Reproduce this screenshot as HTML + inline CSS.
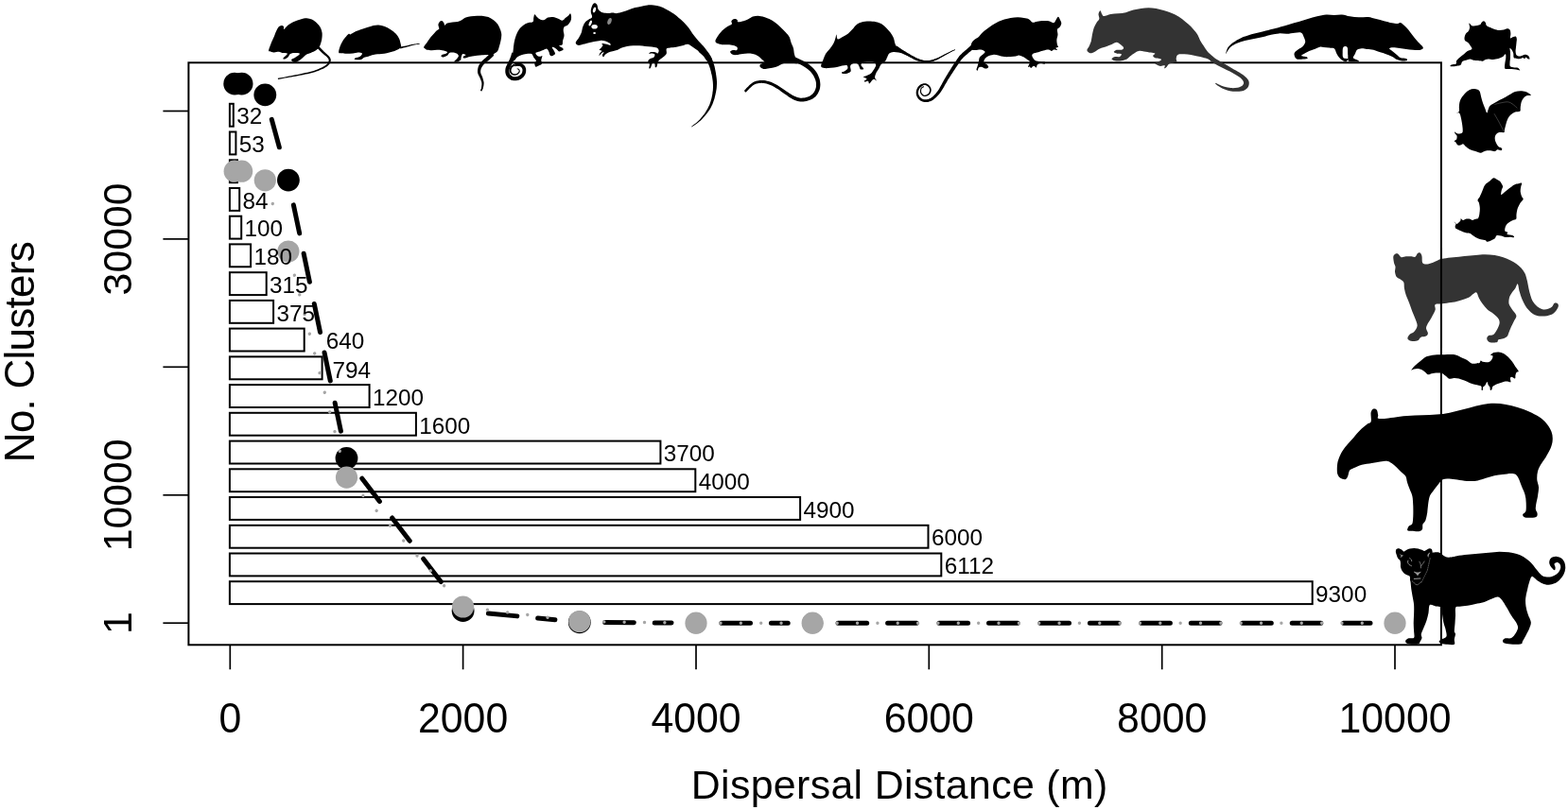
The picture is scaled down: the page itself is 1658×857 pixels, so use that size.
<!DOCTYPE html>
<html lang="en"><head><meta charset="utf-8"><title>Dispersal Distance vs No. Clusters</title>
<style>html,body{margin:0;padding:0;background:#fff}body{width:1658px;height:857px;overflow:hidden}svg{display:block}text{font-family:"Liberation Sans", Arial, Helvetica, sans-serif;fill:#000}</style>
</head><body><main><figure style="margin:0">
<svg role="img" aria-label="Dispersal distance versus number of clusters" width="1658" height="857" viewBox="0 0 1658 857">
<rect width="1658" height="857" fill="#fff"/>
<rect x="199.4" y="66.3" width="1324.5" height="616.0" fill="none" stroke="#000" stroke-width="2"/>
<g fill="none" stroke="#000" stroke-width="1.7" stroke-linecap="butt">
<line x1="243.3" y1="682.3" x2="243.3" y2="708.3"/>
<line x1="489.6" y1="682.3" x2="489.6" y2="708.3"/>
<line x1="736.0" y1="682.3" x2="736.0" y2="708.3"/>
<line x1="982.3" y1="682.3" x2="982.3" y2="708.3"/>
<line x1="1228.7" y1="682.3" x2="1228.7" y2="708.3"/>
<line x1="1475.0" y1="682.3" x2="1475.0" y2="708.3"/>
<line x1="172.4" y1="659.2" x2="199.4" y2="659.2"/>
<line x1="172.4" y1="523.8" x2="199.4" y2="523.8"/>
<line x1="172.4" y1="388.3" x2="199.4" y2="388.3"/>
<line x1="172.4" y1="252.9" x2="199.4" y2="252.9"/>
<line x1="172.4" y1="117.5" x2="199.4" y2="117.5"/>
</g>
<g font-size="42.8" text-anchor="middle">
<text transform="translate(243.3 775.3) scale(1 1.015)">0</text>
<text transform="translate(489.6 775.3) scale(1 1.015)">2000</text>
<text transform="translate(736.0 775.3) scale(1 1.015)">4000</text>
<text transform="translate(982.3 775.3) scale(1 1.015)">6000</text>
<text transform="translate(1228.7 775.3) scale(1 1.015)">8000</text>
<text transform="translate(1475.0 775.3) scale(1 1.015)">10000</text>
<text x="951.2" y="844.8" letter-spacing="0.36">Dispersal Distance (m)</text>
<text transform="translate(138.8 659.2) rotate(-90)">1</text>
<text transform="translate(138.8 523.8) rotate(-90)">10000</text>
<text transform="translate(138.8 252.9) rotate(-90)">30000</text>
<text transform="translate(35.9 372.6) rotate(-90)" font-size="44" letter-spacing="-0.75">No. Clusters</text>
</g>
<g fill="#fff" stroke="#000" stroke-width="2">
<rect x="242.9" y="109.8" width="3.9" height="23.9"/>
<rect x="242.9" y="139.5" width="6.5" height="23.9"/>
<rect x="242.9" y="169.3" width="8.1" height="23.9"/>
<rect x="242.9" y="199.0" width="10.3" height="23.9"/>
<rect x="242.9" y="228.7" width="12.3" height="23.9"/>
<rect x="242.9" y="258.4" width="22.2" height="23.9"/>
<rect x="242.9" y="288.2" width="38.8" height="23.9"/>
<rect x="242.9" y="317.9" width="46.2" height="23.9"/>
<rect x="242.9" y="347.6" width="78.8" height="23.9"/>
<rect x="242.9" y="377.4" width="97.7" height="23.9"/>
<rect x="242.9" y="407.1" width="147.7" height="23.9"/>
<rect x="242.9" y="436.8" width="197.0" height="23.9"/>
<rect x="242.9" y="466.6" width="455.5" height="23.9"/>
<rect x="242.9" y="496.3" width="492.4" height="23.9"/>
<rect x="242.9" y="526.0" width="603.2" height="23.9"/>
<rect x="242.9" y="555.8" width="738.6" height="23.9"/>
<rect x="242.9" y="585.5" width="752.4" height="23.9"/>
<rect x="242.9" y="615.2" width="1144.8" height="23.9"/>
</g>
<g fill="none" stroke="#000" stroke-width="5" stroke-linecap="round" stroke-dasharray="30.6 21.9 30.6 23.8">
<line x1="287.3" y1="126.3" x2="298.0" y2="165.5"/>
<line x1="310.4" y1="216.9" x2="361.1" y2="459.4"/>
<line x1="382.8" y1="506.2" x2="473.9" y2="625.5"/>
<line x1="516.4" y1="648.9" x2="586.9" y2="655.8"/>
<line x1="639.7" y1="658.6" x2="710.0" y2="659.0"/>
<line x1="762.9" y1="659.2" x2="833.2" y2="659.2"/>
<line x1="886.1" y1="659.2" x2="1449.0" y2="659.2"/>
</g>
<g fill="#000">
<circle cx="248.2" cy="88.7" r="11.9"/>
<circle cx="255.6" cy="88.7" r="11.9"/>
<circle cx="280.3" cy="100.3" r="11.9"/>
<circle cx="304.9" cy="190.6" r="11.9"/>
<circle cx="366.5" cy="484.8" r="11.9"/>
<circle cx="489.6" cy="646.2" r="11.9"/>
<circle cx="612.8" cy="658.4" r="11.9"/>
<circle cx="736.0" cy="659.2" r="11"/>
<circle cx="859.2" cy="659.2" r="11"/>
<circle cx="1475.0" cy="659.2" r="11"/>
</g>
<g fill="none" stroke="#a6a6a6" stroke-width="3.4" stroke-linecap="round" stroke-dasharray="0.01 21.34">
<line x1="288.3" y1="215.5" x2="297.7" y2="244.1"/>
<line x1="311.4" y1="291.2" x2="360.7" y2="482.8"/>
<line x1="383.9" y1="524.4" x2="474.3" y2="624.9"/>
<line x1="515.4" y1="645.2" x2="590.0" y2="654.6"/>
<line x1="638.8" y1="657.9" x2="713.0" y2="658.9"/>
<line x1="762.0" y1="659.2" x2="836.2" y2="659.2"/>
<line x1="885.2" y1="659.2" x2="1452.0" y2="659.2"/>
</g>
<g fill="#a6a6a6">
<circle cx="248.2" cy="181.2" r="11.6"/>
<circle cx="255.6" cy="181.2" r="11.6"/>
<circle cx="280.3" cy="190.8" r="11.6"/>
<circle cx="304.9" cy="266.0" r="11.6"/>
<circle cx="366.5" cy="505.1" r="11.6"/>
<circle cx="489.6" cy="642.0" r="11.6"/>
<circle cx="612.8" cy="657.5" r="11.6"/>
<circle cx="736.0" cy="659.2" r="11.6"/>
<circle cx="859.2" cy="659.2" r="11.6"/>
<circle cx="1475.0" cy="659.2" r="11.6"/>
</g>
<g font-size="24.3">
<text x="250.2" y="131.4">32</text>
<text x="252.8" y="161.2">53</text>
<text x="256.6" y="220.6">84</text>
<text x="258.6" y="250.4">100</text>
<text x="268.5" y="280.1">180</text>
<text x="285.1" y="309.8">315</text>
<text x="292.5" y="339.6">375</text>
<text x="344.7" y="369.1">640</text>
<text x="351.4" y="399.7">794</text>
<text x="394.0" y="428.8">1200</text>
<text x="443.3" y="458.5">1600</text>
<text x="701.8" y="488.2">3700</text>
<text x="738.7" y="517.9">4000</text>
<text x="849.5" y="547.7">4900</text>
<text x="984.9" y="577.4">6000</text>
<text x="998.7" y="607.1">6112</text>
<text x="1391.1" y="636.9">9300</text>
</g>
<g stroke-linejoin="round" stroke-linecap="round">
<path fill="#000" d="M284.1 53.2C284.3 51.9 285.3 49.2 286.3 46.7C287.3 44.1 289.1 40.3 290.1 38.0C291.1 35.6 291.5 34.1 292.3 32.6C293.0 31.0 293.5 29.7 294.4 28.8C295.3 27.9 296.8 27.3 297.7 27.1C298.6 27.0 299.4 27.4 299.9 28.0C300.3 28.6 299.6 31.2 300.4 30.9C301.2 30.7 302.9 28.0 304.7 26.6C306.6 25.2 309.1 23.8 311.3 22.8C313.4 21.8 315.6 21.0 317.8 20.4C319.9 19.8 322.3 19.3 324.3 19.3C326.3 19.4 327.9 19.8 329.7 20.6C331.5 21.5 333.6 23.0 335.1 24.4C336.7 25.9 338.0 27.6 338.9 29.3C339.8 31.0 340.3 32.8 340.6 34.7C340.8 36.7 340.6 39.3 340.3 41.3C340.1 43.2 339.4 45.2 338.9 46.7C338.4 48.1 338.1 48.9 337.3 49.9C336.5 51.0 335.5 52.2 334.1 53.2C332.6 54.2 330.3 55.2 328.6 55.9C327.0 56.6 325.5 56.8 324.3 57.5C323.0 58.3 322.1 59.3 321.0 60.3C319.9 61.2 318.9 62.2 317.8 63.0C316.7 63.8 315.5 64.6 314.5 65.1C313.5 65.7 312.9 66.5 311.8 66.2C310.7 66.0 307.9 64.4 308.0 63.5C308.1 62.6 311.1 61.6 312.3 60.8C313.6 60.0 314.9 59.3 315.6 58.6C316.3 57.9 317.4 56.9 316.7 56.5C316.0 56.0 312.9 55.8 311.3 55.9C309.6 56.0 308.0 56.3 306.9 57.0C305.8 57.7 305.6 59.3 304.7 60.3C303.8 61.2 302.4 62.2 301.5 62.4C300.6 62.7 299.1 62.5 299.3 61.9C299.5 61.2 301.8 59.5 302.6 58.6C303.3 57.7 304.4 56.9 303.7 56.5C302.9 56.0 299.7 56.2 298.2 55.9C296.8 55.6 296.4 54.9 295.0 54.8C293.5 54.7 291.2 55.5 289.5 55.4C287.9 55.3 286.1 54.6 285.2 54.3C284.3 53.9 283.9 54.5 284.1 53.2Z"/>
<path fill="#000" d="M335.5 50.8 L336.1 51.4 L336.9 52.2 L337.8 53.2 L338.8 54.3 L339.8 55.3 L340.8 56.2 L341.8 57.1 L342.8 58.0 L343.8 58.8 L344.8 59.6 L345.6 60.3 L346.2 61.0 L346.7 61.6 L347.1 62.2 L347.4 62.6 L347.5 63.1 L347.6 63.5 L347.7 64.0 L347.6 64.5 L347.4 65.1 L347.2 65.8 L346.8 66.4 L346.4 67.1 L345.9 67.7 L345.2 68.3 L344.4 68.9 L343.5 69.5 L342.5 70.2 L341.4 70.8 L340.2 71.4 L338.8 72.0 L337.3 72.7 L335.7 73.4 L334.1 74.0 L332.3 74.7 L330.6 75.2 L328.7 75.8 L326.8 76.2 L324.9 76.7 L322.8 77.1 L320.8 77.6 L318.7 78.0 L316.6 78.5 L314.4 78.9 L312.2 79.3 L310.0 79.8 L307.8 80.2 L305.7 80.6 L303.5 81.0 L301.2 81.4 L298.9 81.9 L296.8 82.3 L295.1 82.6 L293.8 82.8 L294.0 83.9 L295.3 83.7 L297.0 83.4 L299.1 83.0 L301.4 82.6 L303.7 82.2 L305.9 81.8 L308.1 81.4 L310.2 81.1 L312.5 80.7 L314.7 80.2 L316.9 79.8 L319.0 79.4 L321.1 79.0 L323.1 78.6 L325.2 78.2 L327.2 77.7 L329.1 77.3 L331.0 76.8 L332.9 76.2 L334.6 75.6 L336.4 74.9 L338.0 74.3 L339.5 73.6 L341.0 73.0 L342.2 72.4 L343.4 71.7 L344.5 71.1 L345.5 70.5 L346.4 69.8 L347.2 69.1 L347.9 68.3 L348.5 67.5 L349.0 66.7 L349.4 65.8 L349.6 65.0 L349.8 64.1 L349.8 63.3 L349.6 62.5 L349.4 61.7 L349.0 61.0 L348.5 60.3 L347.9 59.5 L347.2 58.7 L346.3 57.9 L345.3 57.0 L344.4 56.2 L343.4 55.3 L342.5 54.5 L341.6 53.6 L340.6 52.5 L339.6 51.5 L338.7 50.5 L337.9 49.7 L337.4 49.0Z"/>
<path fill="#000" d="M358.2 55.4C357.9 54.1 358.9 50.8 359.6 48.9C360.3 46.9 361.2 45.1 362.3 43.4C363.4 41.7 365.0 39.8 366.1 38.5C367.2 37.3 368.1 36.2 368.8 35.8C369.5 35.5 369.5 36.6 370.4 36.4C371.3 36.1 372.5 35.0 374.2 34.2C375.9 33.4 378.4 32.3 380.7 31.5C383.1 30.6 386.0 29.8 388.3 29.1C390.7 28.4 392.9 27.6 394.8 27.1C396.8 26.7 398.3 26.5 400.3 26.6C402.3 26.7 404.6 27.2 406.8 28.0C409.0 28.8 411.3 30.2 413.3 31.5C415.3 32.8 417.3 34.3 418.7 35.8C420.2 37.4 421.2 39.0 422.0 40.7C422.8 42.4 423.3 44.6 423.6 46.1C423.9 47.7 424.6 48.9 423.9 49.9C423.3 51.0 421.4 51.8 419.8 52.7C418.2 53.5 416.2 54.2 414.4 54.8C412.6 55.4 410.8 55.9 409.0 56.2C407.2 56.6 405.2 56.8 403.5 57.0C401.9 57.2 400.6 57.1 399.2 57.3C397.7 57.5 396.5 57.7 394.8 58.1C393.2 58.5 391.0 59.3 389.4 59.7C387.8 60.2 386.3 60.3 385.1 60.8C383.8 61.3 383.4 62.6 381.8 63.0C380.2 63.3 376.3 63.2 375.3 63.0C374.3 62.7 374.9 61.9 375.9 61.3C376.8 60.8 379.6 60.5 380.7 59.7C381.9 58.9 383.3 57.2 382.9 56.5C382.5 55.7 380.2 55.4 378.6 55.4C376.9 55.4 375.1 56.2 373.1 56.5C371.1 56.7 368.6 56.7 366.6 56.7C364.6 56.6 362.6 56.5 361.2 56.2C359.8 56.0 358.4 56.6 358.2 55.4Z"/>
<path fill="#000" d="M423.3 51.4 L424.1 51.2 L425.3 50.9 L426.6 50.6 L428.1 50.2 L429.5 49.9 L430.8 49.6 L432.0 49.2 L433.1 48.9 L434.2 48.6 L435.2 48.3 L436.2 48.0 L437.3 47.7 L438.4 47.5 L439.7 47.3 L440.9 47.1 L442.1 47.0 L443.0 46.8 L443.7 46.7 L443.7 46.0 L443.0 46.1 L442.0 46.1 L440.8 46.3 L439.5 46.4 L438.3 46.5 L437.1 46.7 L436.0 46.9 L434.9 47.1 L433.8 47.4 L432.8 47.6 L431.7 47.9 L430.5 48.2 L429.2 48.4 L427.8 48.7 L426.3 49.0 L424.9 49.2 L423.7 49.5 L422.9 49.6Z"/>
<path fill="#000" d="M448.2 49.5C448.6 48.5 450.1 46.8 451.3 45.2C452.4 43.5 453.8 41.4 455.1 39.7C456.4 38.1 457.7 36.7 458.9 35.4C460.1 34.1 461.2 33.0 462.1 32.1C463.0 31.3 464.1 31.5 464.3 30.5C464.5 29.5 463.4 27.4 463.4 26.2C463.5 24.9 464.2 23.6 464.9 22.9C465.5 22.2 466.8 21.9 467.6 22.2C468.3 22.4 469.1 23.8 469.5 24.5C470.0 25.3 469.7 26.7 470.3 26.7C470.9 26.7 471.6 25.1 473.0 24.5C474.4 24.0 476.6 23.7 478.4 23.5C480.2 23.2 482.2 23.3 483.9 22.9C485.5 22.6 486.7 22.0 488.2 21.3C489.6 20.6 490.9 19.3 492.5 18.6C494.2 17.9 496.0 17.5 498.0 17.2C500.0 16.9 502.3 16.8 504.5 16.7C506.7 16.7 509.0 16.7 511.0 16.9C513.0 17.2 514.6 17.3 516.4 18.0C518.2 18.8 520.2 20.0 521.9 21.3C523.5 22.6 525.0 24.0 526.2 25.6C527.4 27.3 528.2 29.2 528.9 31.1C529.6 32.9 530.2 34.5 530.3 36.5C530.4 38.5 529.9 40.8 529.5 43.0C529.0 45.2 528.4 47.7 527.8 49.5C527.3 51.3 527.0 52.7 526.2 53.9C525.4 55.0 524.0 55.7 522.9 56.6C521.9 57.5 520.8 59.0 519.7 59.3C518.6 59.5 517.9 58.2 516.4 58.0C515.0 57.8 513.0 58.1 511.0 58.2C509.0 58.3 506.7 58.5 504.5 58.7C502.3 59.0 499.8 59.5 498.0 59.8C496.2 60.2 494.9 60.6 493.6 60.9C492.4 61.2 491.0 61.6 490.4 61.5C489.7 61.3 489.5 60.4 489.8 59.8C490.2 59.3 492.6 58.6 492.5 58.2C492.4 57.7 490.1 56.7 489.3 57.1C488.5 57.5 488.0 59.3 487.7 60.4C487.3 61.5 487.7 62.8 487.1 63.6C486.5 64.4 485.0 65.0 483.9 65.3C482.7 65.5 480.2 65.7 480.1 65.3C479.9 64.8 482.0 63.5 482.8 62.5C483.6 61.5 484.9 60.3 484.9 59.3C484.9 58.3 483.9 57.2 482.8 56.6C481.7 55.9 479.7 55.6 478.4 55.5C477.2 55.4 476.1 55.5 475.2 56.0C474.3 56.6 474.1 58.0 473.0 58.7C471.9 59.5 469.7 60.2 468.7 60.4C467.6 60.5 467.0 60.2 466.7 59.8C466.4 59.5 466.3 58.6 467.0 58.2C467.7 57.7 469.8 57.7 470.8 57.1C471.8 56.6 473.5 55.6 473.0 54.9C472.5 54.3 469.4 53.7 467.6 53.3C465.8 52.9 464.0 52.8 462.1 52.8C460.3 52.8 458.5 53.3 456.7 53.3C454.9 53.3 452.6 53.1 451.3 52.8C450.0 52.4 449.6 51.7 449.1 51.1C448.6 50.6 447.9 50.5 448.2 49.5Z"/>
<path fill="#000" d="M519.2 55.5 L518.6 56.1 L517.8 56.9 L516.8 57.9 L515.8 58.9 L514.8 59.9 L513.9 60.8 L513.2 61.5 L512.4 62.1 L511.6 62.8 L510.8 63.5 L510.0 64.2 L509.3 65.0 L508.6 65.9 L507.9 66.8 L507.3 67.7 L506.7 68.6 L506.2 69.6 L505.8 70.6 L505.5 71.6 L505.3 72.6 L505.1 73.7 L505.0 74.7 L505.0 75.8 L505.1 76.9 L505.4 78.0 L505.8 79.0 L506.3 80.0 L506.8 80.9 L507.2 81.7 L507.6 82.6 L507.9 83.4 L508.3 84.3 L508.6 85.2 L508.9 86.0 L509.2 86.8 L509.3 87.6 L509.4 88.4 L509.4 89.3 L509.3 90.2 L509.2 91.1 L509.1 92.0 L509.0 92.7 L508.9 93.4 L508.7 94.0 L508.5 94.6 L508.2 95.1 L508.1 95.5 L507.9 95.9 L509.3 96.5 L509.5 96.2 L509.7 95.8 L510.0 95.3 L510.3 94.6 L510.6 93.9 L510.8 93.2 L511.0 92.3 L511.2 91.5 L511.4 90.5 L511.5 89.5 L511.6 88.4 L511.6 87.4 L511.5 86.4 L511.2 85.4 L511.0 84.4 L510.7 83.5 L510.4 82.5 L510.1 81.6 L509.7 80.6 L509.3 79.7 L508.9 78.8 L508.5 77.9 L508.3 77.1 L508.2 76.4 L508.1 75.7 L508.2 74.9 L508.3 74.1 L508.5 73.4 L508.7 72.6 L509.0 71.9 L509.4 71.2 L509.8 70.4 L510.3 69.7 L510.9 69.0 L511.5 68.3 L512.1 67.6 L512.7 67.0 L513.4 66.5 L514.1 65.9 L514.9 65.3 L515.8 64.6 L516.7 63.9 L517.7 63.0 L518.8 62.0 L519.9 61.0 L520.9 60.1 L521.7 59.3 L522.4 58.8Z"/>
<path fill="#000" d="M541.9 61.5C541.8 59.6 542.4 55.5 542.7 52.8C543.0 50.1 543.1 47.7 543.6 45.2C544.1 42.6 544.8 39.9 545.7 37.6C546.6 35.2 547.7 32.9 549.0 31.1C550.3 29.2 551.7 27.9 553.3 26.7C555.0 25.5 557.0 24.6 558.8 24.0C560.5 23.4 562.7 23.7 563.6 22.9C564.6 22.1 563.9 20.4 564.2 19.1C564.5 17.8 564.7 15.6 565.3 15.3C565.8 15.0 566.5 16.7 567.4 17.5C568.4 18.3 569.4 19.6 570.7 20.2C572.0 20.8 573.6 21.6 575.0 21.3C576.5 21.0 577.8 19.1 579.4 18.6C581.0 18.0 583.0 17.8 584.8 18.0C586.6 18.2 588.6 19.0 590.2 19.7C591.9 20.3 593.3 21.9 594.6 21.8C595.9 21.7 596.8 20.0 597.8 19.1C598.9 18.2 600.2 17.2 601.1 16.4C602.0 15.6 602.6 14.0 603.1 14.2C603.6 14.5 604.1 16.7 604.1 18.0C604.2 19.4 604.0 20.9 603.3 22.4C602.6 23.8 601.1 25.7 600.0 26.7C598.9 27.7 597.5 27.4 596.8 28.3C596.0 29.2 595.7 30.6 595.7 32.1C595.6 33.7 596.6 35.8 596.5 37.6C596.5 39.4 595.5 41.4 595.1 43.0C594.8 44.6 595.2 46.4 594.6 47.3C594.0 48.2 591.3 47.9 591.3 48.4C591.3 49.0 593.9 49.9 594.6 50.6C595.3 51.3 596.0 52.1 595.5 52.8C594.9 53.4 592.4 54.4 591.3 54.4C590.3 54.4 590.0 53.4 589.2 52.8C588.3 52.1 587.4 51.0 586.4 50.6C585.5 50.1 583.8 49.5 583.7 50.1C583.6 50.6 585.4 52.7 585.9 53.9C586.4 55.0 587.4 56.2 587.0 57.1C586.6 58.0 584.6 59.1 583.7 59.3C582.8 59.5 582.1 58.9 581.6 58.2C581.0 57.5 581.0 56.0 580.5 54.9C579.9 53.9 579.2 52.0 578.3 51.7C577.4 51.3 576.3 52.3 575.0 52.8C573.8 53.2 572.2 53.9 570.7 54.4C569.3 54.9 566.7 55.2 566.4 56.0C566.0 56.8 567.6 58.6 568.5 59.3C569.4 59.9 571.0 59.8 571.8 59.8C572.6 59.8 573.3 58.6 573.4 59.3C573.5 59.9 572.4 62.3 572.3 63.6C572.2 65.0 573.1 66.5 572.9 67.4C572.6 68.3 571.4 68.6 570.7 69.1C570.0 69.5 569.3 69.9 568.5 70.1C567.8 70.4 566.9 71.2 566.4 70.7C565.8 70.1 565.2 68.0 565.3 66.9C565.4 65.8 567.1 65.3 566.9 64.2C566.7 63.1 565.0 61.5 564.2 60.4C563.4 59.2 563.3 57.7 562.0 57.1C560.8 56.6 558.4 56.9 556.6 57.1C554.8 57.3 552.8 57.7 551.2 58.2C549.5 58.7 548.1 59.4 546.8 60.4C545.6 61.4 544.4 64.0 543.6 64.2C542.8 64.3 542.1 63.4 541.9 61.5Z"/>
<path fill="#000" d="M541.4 55.4 L541.2 56.1 L540.9 57.0 L540.6 58.1 L540.3 59.2 L539.9 60.3 L539.5 61.2 L539.2 62.1 L538.8 62.9 L538.4 63.7 L538.0 64.5 L537.5 65.5 L537.1 66.4 L536.6 67.3 L536.1 68.4 L535.6 69.4 L535.1 70.6 L534.6 71.9 L534.4 73.2 L534.3 74.4 L534.3 75.7 L534.4 76.9 L534.7 78.2 L535.1 79.4 L535.7 80.5 L536.4 81.6 L537.3 82.5 L538.3 83.3 L539.4 84.1 L540.6 84.7 L541.8 85.1 L543.1 85.3 L544.5 85.3 L545.8 85.2 L547.1 85.0 L548.4 84.7 L549.5 84.2 L550.6 83.7 L551.7 83.0 L552.6 82.3 L553.5 81.5 L554.2 80.6 L554.9 79.6 L555.4 78.6 L555.8 77.5 L556.0 76.4 L556.2 75.3 L556.2 74.3 L556.2 73.3 L556.0 72.3 L555.7 71.4 L555.3 70.5 L554.8 69.7 L554.2 69.0 L553.5 68.4 L552.8 67.8 L552.0 67.4 L551.2 67.0 L550.4 66.7 L549.5 66.5 L548.7 66.4 L547.7 66.3 L546.8 66.4 L545.9 66.5 L545.1 66.7 L544.5 66.8 L544.1 66.8 L544.5 70.2 L545.0 70.2 L545.7 70.1 L546.4 69.9 L547.1 69.9 L547.7 69.8 L548.3 69.9 L548.8 70.0 L549.4 70.1 L549.9 70.3 L550.4 70.6 L550.8 70.8 L551.1 71.1 L551.4 71.4 L551.8 71.8 L552.0 72.3 L552.2 72.7 L552.4 73.2 L552.5 73.7 L552.5 74.3 L552.4 75.0 L552.3 75.7 L552.1 76.4 L551.9 77.1 L551.6 77.7 L551.2 78.2 L550.7 78.8 L550.1 79.3 L549.4 79.8 L548.7 80.3 L548.0 80.6 L547.2 80.9 L546.3 81.1 L545.3 81.2 L544.4 81.3 L543.5 81.3 L542.8 81.2 L542.2 80.9 L541.5 80.5 L540.8 80.1 L540.2 79.5 L539.6 78.9 L539.2 78.4 L539.0 77.8 L538.7 77.1 L538.6 76.3 L538.5 75.5 L538.5 74.6 L538.6 73.8 L538.8 73.1 L539.1 72.2 L539.5 71.3 L540.0 70.3 L540.5 69.3 L541.0 68.3 L541.5 67.4 L541.9 66.6 L542.3 65.7 L542.8 64.9 L543.3 63.9 L543.7 62.9 L544.1 61.8 L544.6 60.6 L544.9 59.5 L545.3 58.4 L545.6 57.5 L545.8 56.8Z"/>
<path fill="#000" d="M543.8 67.6 L543.4 67.8 L542.9 68.1 L542.1 68.4 L541.4 68.9 L540.7 69.4 L540.0 70.1 L539.6 70.9 L539.2 71.7 L539.0 72.5 L538.8 73.4 L538.7 74.3 L538.7 75.1 L538.9 75.9 L539.3 76.7 L539.7 77.4 L540.2 78.1 L540.8 78.7 L541.4 79.1 L542.2 79.5 L543.0 79.6 L543.8 79.7 L544.7 79.7 L545.5 79.6 L546.2 79.4 L546.9 79.1 L547.6 78.7 L548.2 78.2 L548.7 77.6 L549.2 77.1 L549.5 76.5 L549.7 76.0 L549.8 75.4 L549.7 74.8 L549.6 74.3 L549.4 73.8 L549.2 73.4 L548.8 73.0 L548.4 72.8 L547.9 72.6 L547.5 72.5 L547.2 72.4 L546.9 72.3 L546.6 73.1 L546.9 73.2 L547.2 73.3 L547.6 73.5 L548.0 73.6 L548.2 73.8 L548.4 74.0 L548.5 74.2 L548.6 74.6 L548.6 75.0 L548.6 75.3 L548.6 75.7 L548.4 76.0 L548.2 76.3 L547.8 76.8 L547.3 77.2 L546.8 77.6 L546.3 77.9 L545.8 78.1 L545.2 78.2 L544.6 78.2 L543.9 78.2 L543.2 78.1 L542.7 78.0 L542.2 77.8 L541.9 77.5 L541.5 77.0 L541.1 76.5 L540.8 76.0 L540.6 75.4 L540.5 74.9 L540.5 74.3 L540.6 73.7 L540.8 73.0 L541.0 72.4 L541.3 71.8 L541.6 71.3 L542.0 71.0 L542.5 70.6 L543.1 70.3 L543.8 70.0 L544.4 69.7 L544.8 69.5Z"/>
<path fill="#000" d="M608.7 45.1C608.9 43.8 610.9 41.9 611.9 40.2C612.9 38.4 613.9 36.7 614.7 34.7C615.4 32.8 615.6 30.1 616.3 28.2C617.0 26.3 617.8 24.7 619.0 23.3C620.2 22.0 622.2 21.0 623.3 20.1C624.5 19.2 625.8 19.1 626.1 17.9C626.3 16.7 624.9 14.6 624.8 13.0C624.6 11.5 624.8 10.1 625.2 8.7C625.6 7.2 626.5 5.2 627.1 4.3C627.8 3.4 628.6 3.1 629.3 3.3C630.0 3.4 630.9 4.3 631.5 5.4C632.0 6.5 632.0 8.7 632.6 9.8C633.1 10.9 633.8 11.3 634.7 11.9C635.6 12.6 636.6 13.2 638.0 13.6C639.4 13.9 641.8 14.1 643.4 14.1C645.1 14.1 646.3 13.6 647.8 13.6C649.2 13.6 650.3 14.3 652.1 14.1C653.9 13.9 656.5 13.1 658.6 12.5C660.8 11.9 663.0 11.0 665.1 10.3C667.3 9.6 669.5 8.7 671.7 8.1C673.8 7.5 676.0 7.2 678.2 6.7C680.3 6.3 682.5 5.6 684.7 5.4C686.9 5.2 689.0 5.4 691.2 5.6C693.4 5.9 695.5 6.0 697.7 6.7C699.9 7.4 702.1 8.6 704.2 9.8C706.4 10.9 708.6 12.1 710.7 13.6C712.9 15.0 715.3 16.8 717.2 18.5C719.2 20.1 720.9 21.5 722.7 23.3C724.5 25.2 726.5 27.2 728.1 29.3C729.7 31.4 731.0 33.8 732.4 35.8C733.9 37.8 735.3 39.5 736.8 41.3C738.2 43.0 739.7 44.5 741.1 46.1C742.6 47.8 743.9 49.0 745.5 51.0C747.0 53.0 749.2 56.1 750.4 58.1C751.5 60.1 753.0 62.0 752.5 63.0C752.1 64.0 749.0 64.6 747.6 64.1C746.3 63.5 745.7 61.2 744.4 59.7C743.1 58.3 741.5 56.6 740.0 55.4C738.6 54.1 737.2 53.2 735.7 52.1C734.3 51.0 732.8 49.8 731.4 48.9C729.9 47.9 728.6 46.8 727.0 46.7C725.4 46.6 723.6 47.8 721.6 48.3C719.6 48.8 717.2 49.4 715.1 49.7C712.9 50.1 710.3 50.2 708.6 50.5C706.8 50.8 705.4 50.6 704.8 51.6C704.1 52.6 705.2 55.1 704.8 56.5C704.3 57.8 703.2 58.6 702.1 59.7C700.9 60.8 698.8 61.9 697.7 63.0C696.6 64.1 696.1 65.0 695.5 66.2C695.0 67.5 694.9 69.8 694.5 70.6C694.0 71.4 693.2 71.7 692.8 71.1C692.5 70.6 692.7 68.1 692.3 67.3C691.8 66.5 690.8 65.5 690.1 66.2C689.4 66.9 688.6 70.7 687.9 71.7C687.3 72.6 686.5 72.8 686.3 72.2C686.1 71.6 687.0 69.0 686.9 67.9C686.7 66.7 685.2 66.0 685.2 65.1C685.2 64.2 685.9 63.1 686.9 62.4C687.8 61.7 690.3 61.6 691.2 60.8C692.1 60.0 692.6 58.3 692.3 57.5C691.9 56.8 690.0 56.5 689.0 56.5C688.0 56.4 686.5 57.2 686.3 57.0C686.1 56.8 686.8 55.4 687.9 55.2C689.1 54.9 692.1 55.2 693.4 55.4C694.6 55.6 695.0 56.8 695.5 56.5C696.1 56.1 696.8 54.2 696.6 53.2C696.4 52.2 695.7 51.1 694.5 50.5C693.2 49.8 691.0 49.7 689.0 49.4C687.0 49.1 684.7 49.0 682.5 48.9C680.3 48.7 678.2 48.4 676.0 48.3C673.8 48.2 671.7 48.2 669.5 48.3C667.3 48.4 665.0 48.5 663.0 48.9C661.0 49.2 659.2 49.8 657.5 50.5C655.9 51.1 654.8 52.0 653.2 52.7C651.6 53.3 649.4 53.8 647.8 54.3C646.1 54.7 644.7 54.8 643.4 55.4C642.2 55.9 641.1 56.7 640.2 57.5C639.3 58.4 638.5 60.2 638.0 60.3C637.5 60.3 636.8 58.9 636.9 58.1C637.0 57.3 638.7 55.6 638.5 55.4C638.4 55.1 636.6 55.8 635.8 56.5C635.0 57.1 633.9 59.2 633.7 59.2C633.4 59.2 633.7 57.4 634.2 56.5C634.7 55.5 636.5 54.4 636.4 53.7C636.3 53.1 633.7 53.2 633.7 52.7C633.6 52.1 635.2 51.3 635.8 50.5C636.5 49.7 637.4 48.5 637.5 47.8C637.5 47.0 635.7 46.3 636.4 46.1C637.0 46.0 639.7 46.4 641.3 46.7C642.8 47.0 645.1 47.9 645.6 47.8C646.1 47.6 645.4 46.3 644.5 45.6C643.6 44.9 641.8 43.9 640.2 43.4C638.5 43.0 636.7 42.8 634.7 42.9C632.8 43.0 630.4 43.5 628.2 44.0C626.1 44.4 623.9 45.1 621.7 45.6C619.5 46.1 617.0 46.9 615.2 47.2C613.4 47.6 611.9 48.1 610.9 47.8C609.8 47.4 608.5 46.3 608.7 45.1Z"/>
<path fill="#000" d="M738.6 54.7 L739.3 55.3 L740.2 56.0 L741.2 56.9 L742.2 57.8 L743.2 58.7 L744.0 59.6 L744.8 60.5 L745.5 61.4 L746.3 62.4 L746.9 63.4 L747.6 64.5 L748.2 65.8 L748.9 67.2 L749.5 68.7 L750.1 70.3 L750.7 72.0 L751.2 73.7 L751.7 75.5 L752.1 77.4 L752.6 79.3 L753.0 81.3 L753.3 83.2 L753.6 85.2 L753.8 87.0 L753.9 88.8 L754.0 90.5 L754.0 92.2 L753.9 93.9 L753.8 95.7 L753.5 97.5 L753.3 99.4 L752.9 101.4 L752.5 103.4 L752.0 105.4 L751.4 107.4 L750.8 109.2 L750.2 110.9 L749.4 112.6 L748.6 114.2 L747.8 115.8 L746.8 117.3 L745.8 118.9 L744.8 120.4 L743.6 122.0 L742.4 123.5 L741.1 125.0 L739.9 126.4 L738.6 127.7 L737.3 128.9 L735.9 130.2 L734.4 131.3 L733.0 132.3 L731.9 133.2 L731.1 133.9 L731.4 134.4 L732.3 133.8 L733.5 133.0 L735.0 132.1 L736.5 131.0 L738.1 129.8 L739.5 128.6 L740.9 127.4 L742.3 126.0 L743.6 124.6 L745.0 123.1 L746.3 121.6 L747.5 120.1 L748.6 118.5 L749.7 117.0 L750.7 115.4 L751.7 113.7 L752.5 112.0 L753.4 110.2 L754.1 108.3 L754.8 106.3 L755.5 104.2 L756.0 102.1 L756.5 100.0 L756.9 98.1 L757.3 96.1 L757.6 94.3 L757.8 92.5 L757.9 90.6 L758.0 88.7 L758.0 86.8 L757.9 84.8 L757.7 82.7 L757.4 80.5 L757.1 78.4 L756.8 76.4 L756.4 74.4 L756.0 72.5 L755.6 70.6 L755.1 68.7 L754.5 66.9 L754.0 65.2 L753.3 63.5 L752.7 62.0 L752.0 60.6 L751.3 59.2 L750.5 58.0 L749.7 56.8 L748.9 55.6 L747.9 54.4 L746.8 53.2 L745.8 52.0 L744.8 51.0 L744.0 50.2 L743.4 49.6Z"/>
<g fill="#fff"><ellipse cx="624.2" cy="24.6" rx="1.3" ry="3.2" transform="rotate(25 624.2 24.6)"/><ellipse cx="628.6" cy="28.2" rx="3.2" ry="2.3"/><ellipse cx="628.6" cy="35" rx="1.4" ry="1.1"/><ellipse cx="628.5" cy="10.5" rx="1.5" ry="3" transform="rotate(20 628.5 10.5)"/></g>
<ellipse cx="644.5" cy="22.5" rx="2" ry="3.6" fill="#888" transform="rotate(20 644.5 22.5)"/>
<path fill="#000" d="M756.4 43.4C756.4 42.1 757.9 39.8 759.1 38.0C760.3 36.2 761.8 34.2 763.5 32.6C765.1 30.9 767.2 29.4 768.9 28.2C770.6 27.1 773.0 26.5 773.8 25.5C774.5 24.5 773.0 23.2 773.4 22.3C773.9 21.4 775.4 20.3 776.5 20.1C777.5 19.9 779.1 20.6 779.7 21.2C780.4 21.7 779.2 23.2 780.3 23.3C781.4 23.5 784.4 22.8 786.3 22.3C788.2 21.7 790.1 20.9 791.7 20.1C793.3 19.3 794.4 18.1 796.0 17.6C797.7 17.0 799.5 16.8 801.5 16.8C803.4 16.9 806.0 17.4 808.0 17.9C810.0 18.5 811.4 19.1 813.4 20.1C815.4 21.1 817.9 22.4 819.9 23.9C821.9 25.3 823.5 27.1 825.3 28.8C827.1 30.5 829.2 32.5 830.8 34.2C832.3 35.9 833.6 37.2 834.6 39.1C835.6 41.0 836.0 43.6 836.7 45.6C837.5 47.6 838.4 49.0 838.9 51.0C839.5 53.0 839.5 55.7 840.0 57.5C840.5 59.3 841.0 60.6 842.2 61.9C843.3 63.1 847.0 64.2 847.1 65.1C847.1 66.0 844.3 67.0 842.7 67.3C841.1 67.6 839.3 66.9 837.3 66.8C835.3 66.7 832.8 66.5 830.8 66.8C828.8 67.0 827.1 67.7 825.3 68.4C823.5 69.1 821.9 70.5 819.9 71.1C817.9 71.7 815.5 71.9 813.4 72.2C811.3 72.5 809.1 73.2 807.4 73.0C805.8 72.7 804.2 71.4 803.6 70.6C803.1 69.7 803.4 68.6 804.2 67.9C805.0 67.1 808.2 67.0 808.5 66.2C808.8 65.4 807.0 64.1 805.8 63.0C804.6 61.8 803.1 60.2 801.5 59.2C799.8 58.2 797.8 57.4 796.0 57.0C794.2 56.5 792.4 56.5 790.6 56.5C788.8 56.5 787.2 56.7 785.2 57.0C783.2 57.3 780.5 58.0 778.7 58.1C776.8 58.2 775.4 58.1 774.3 57.5C773.2 57.0 772.1 55.5 772.1 54.8C772.1 54.1 773.2 53.5 774.3 53.2C775.4 52.9 777.8 53.6 778.7 53.2C779.6 52.7 780.1 51.3 779.7 50.5C779.4 49.7 777.9 48.9 776.5 48.3C775.0 47.8 773.0 47.4 771.1 47.2C769.1 47.0 766.5 47.4 764.5 47.2C762.6 47.0 760.5 46.8 759.1 46.1C757.8 45.5 756.4 44.8 756.4 43.4Z"/>
<path fill="#000" d="M838.8 65.1 L840.0 65.6 L841.7 66.3 L843.7 67.2 L845.8 68.1 L847.7 69.0 L849.4 70.0 L851.0 70.9 L852.5 72.0 L853.9 73.1 L855.3 74.2 L856.5 75.3 L857.6 76.5 L858.6 77.7 L859.5 79.0 L860.3 80.3 L861.0 81.7 L861.6 83.0 L862.1 84.3 L862.5 85.6 L862.8 87.0 L863.0 88.3 L863.0 89.5 L863.0 90.8 L862.9 92.0 L862.6 93.2 L862.3 94.3 L861.8 95.5 L861.2 96.7 L860.6 97.7 L859.9 98.6 L859.2 99.4 L858.4 100.1 L857.5 100.8 L856.5 101.4 L855.4 102.0 L854.3 102.4 L853.1 102.8 L851.8 103.2 L850.5 103.4 L849.1 103.6 L847.7 103.7 L846.5 103.7 L845.3 103.6 L844.2 103.3 L843.1 103.0 L841.9 102.6 L840.7 102.1 L839.5 101.6 L838.4 101.0 L837.2 100.3 L836.0 99.5 L834.7 98.7 L833.4 97.8 L832.1 96.9 L830.7 96.0 L829.3 95.0 L827.8 93.9 L826.3 92.9 L824.8 91.9 L823.3 90.9 L821.8 90.1 L820.3 89.3 L818.8 88.5 L817.3 87.8 L815.8 87.1 L814.3 86.5 L812.7 86.1 L811.2 85.7 L809.6 85.3 L808.1 85.1 L806.6 84.9 L805.1 84.9 L803.6 85.0 L802.2 85.2 L800.8 85.4 L799.4 85.8 L798.1 86.2 L796.9 86.8 L795.7 87.4 L794.7 88.2 L793.7 89.0 L792.8 89.8 L792.0 90.6 L791.2 91.4 L790.3 92.2 L789.5 93.1 L788.6 94.0 L787.9 94.9 L787.3 95.6 L786.8 96.1 L788.6 97.7 L789.1 97.2 L789.7 96.5 L790.5 95.7 L791.3 94.9 L792.1 94.0 L792.9 93.3 L793.8 92.5 L794.6 91.7 L795.4 91.0 L796.3 90.3 L797.1 89.7 L798.1 89.2 L799.1 88.8 L800.2 88.5 L801.4 88.2 L802.6 88.0 L803.8 87.9 L805.1 87.8 L806.4 87.9 L807.7 88.0 L809.1 88.3 L810.5 88.6 L811.9 89.0 L813.3 89.5 L814.6 90.0 L816.0 90.6 L817.4 91.3 L818.8 92.1 L820.2 92.9 L821.6 93.7 L823.0 94.6 L824.4 95.6 L825.9 96.7 L827.3 97.7 L828.8 98.8 L830.2 99.7 L831.5 100.6 L832.8 101.5 L834.0 102.4 L835.3 103.3 L836.6 104.1 L837.9 104.8 L839.2 105.4 L840.5 106.0 L841.9 106.5 L843.3 107.0 L844.7 107.3 L846.2 107.5 L847.8 107.5 L849.4 107.5 L851.0 107.3 L852.7 107.0 L854.2 106.6 L855.7 106.1 L857.1 105.6 L858.4 104.9 L859.7 104.2 L860.9 103.3 L862.1 102.4 L863.1 101.3 L864.1 100.0 L864.9 98.7 L865.6 97.3 L866.3 95.8 L866.8 94.3 L867.1 92.7 L867.3 91.1 L867.4 89.5 L867.3 87.9 L867.1 86.2 L866.8 84.6 L866.4 83.0 L865.8 81.4 L865.1 79.7 L864.3 78.1 L863.4 76.5 L862.3 74.9 L861.1 73.4 L859.8 72.0 L858.4 70.7 L856.9 69.4 L855.3 68.1 L853.6 67.0 L851.9 65.8 L850.0 64.7 L847.9 63.7 L845.7 62.7 L843.7 61.8 L842.0 61.1 L840.8 60.5Z"/>
<path fill="#000" d="M868.1 70.1C867.9 68.7 869.5 65.8 870.3 63.6C871.1 61.5 871.9 59.1 873.0 57.1C874.2 55.1 876.0 53.5 877.4 51.7C878.7 49.9 880.2 48.1 881.2 46.3C882.2 44.4 882.8 42.5 883.3 40.8C883.9 39.2 884.0 36.4 884.4 36.5C884.8 36.6 884.7 41.0 885.8 41.4C887.0 41.7 889.6 39.7 891.5 38.7C893.3 37.7 895.3 36.7 896.9 35.4C898.5 34.1 899.8 32.6 901.3 31.1C902.7 29.5 904.0 27.4 905.6 26.2C907.2 24.9 908.9 24.1 911.0 23.5C913.2 22.9 916.1 22.6 918.6 22.6C921.2 22.6 924.1 22.8 926.2 23.2C928.4 23.7 929.8 24.1 931.7 25.1C933.5 26.1 935.5 27.9 937.1 29.4C938.7 31.0 940.2 32.6 941.4 34.3C942.7 36.0 943.9 37.8 944.7 39.7C945.5 41.6 945.8 44.1 946.3 45.7C946.9 47.3 947.1 48.4 947.9 49.5C948.8 50.6 949.6 51.2 951.2 52.2C952.8 53.2 955.5 54.3 957.7 55.5C959.9 56.7 962.1 58.1 964.2 59.3C966.4 60.5 968.6 61.7 970.7 62.5C972.9 63.4 975.1 63.9 977.2 64.2C979.4 64.4 981.6 64.5 983.8 64.2C985.9 63.8 988.1 62.9 990.3 62.0C992.4 61.1 994.6 59.8 996.8 58.7C999.0 57.7 1001.1 56.5 1003.3 55.5C1005.5 54.5 1009.8 52.4 1009.8 52.6C1009.8 52.7 1005.5 55.0 1003.3 56.2C1001.1 57.5 999.0 58.6 996.8 59.8C994.6 61.1 992.3 62.7 990.3 63.6C988.3 64.5 987.0 64.9 984.8 65.3C982.7 65.6 979.8 66.0 977.2 65.8C974.7 65.6 972.0 65.0 969.7 64.2C967.3 63.4 965.3 62.0 963.1 60.9C961.0 59.8 958.8 58.6 956.6 57.7C954.5 56.7 952.1 55.9 950.1 55.5C948.1 55.0 946.3 54.8 944.7 54.9C943.1 55.1 941.4 55.7 940.3 56.6C939.3 57.5 938.9 59.0 938.2 60.4C937.4 61.7 937.1 63.4 936.0 64.7C934.9 66.0 932.7 66.7 931.7 68.0C930.6 69.2 930.4 70.7 929.5 72.3C928.6 73.9 926.9 76.1 926.2 77.7C925.5 79.4 925.0 80.8 925.1 82.1C925.2 83.3 926.9 85.1 926.8 85.3C926.6 85.6 924.9 83.7 924.1 83.7C923.2 83.7 922.7 84.5 921.9 85.3C921.1 86.2 919.8 88.5 919.2 88.6C918.5 88.7 918.7 86.2 918.1 85.9C917.4 85.5 916.1 86.4 915.4 86.4C914.6 86.4 913.6 86.4 913.7 85.9C913.9 85.3 916.6 83.9 916.5 83.2C916.3 82.4 912.7 82.1 912.7 81.5C912.7 81.0 915.1 80.5 916.5 79.9C917.8 79.3 919.5 78.8 920.8 77.7C922.1 76.7 923.1 74.8 924.1 73.4C925.0 71.9 926.2 70.3 926.2 69.1C926.2 67.8 925.3 66.4 924.1 65.8C922.8 65.2 920.6 65.2 918.6 65.3C916.6 65.3 913.5 65.7 912.1 66.3C910.8 67.0 910.3 68.0 910.5 69.1C910.7 70.1 913.3 72.1 913.2 72.9C913.1 73.6 910.8 73.8 909.9 73.4C909.1 72.9 908.9 71.1 908.3 70.1C907.8 69.1 907.9 67.9 906.7 67.4C905.5 67.0 902.5 67.0 901.3 67.4C900.0 67.9 899.4 68.8 899.1 70.1C898.8 71.5 900.2 74.3 899.6 75.6C899.1 76.8 897.2 77.3 895.8 77.7C894.5 78.1 892.5 78.1 891.5 78.0C890.5 77.8 889.5 77.1 889.9 76.7C890.2 76.2 892.6 75.7 893.7 75.0C894.7 74.3 896.1 73.3 896.4 72.3C896.6 71.3 896.3 69.5 895.3 69.1C894.3 68.6 892.1 69.3 890.4 69.6C888.7 69.9 887.0 70.6 885.0 71.0C883.0 71.4 880.6 71.6 878.5 71.8C876.3 71.9 873.7 72.4 871.9 72.1C870.2 71.8 868.4 71.6 868.1 70.1Z"/>
<path fill="#000" d="M946.0 50.8 L946.9 51.3 L948.1 52.0 L949.5 52.9 L951.0 53.9 L952.4 54.8 L953.7 55.6 L954.9 56.3 L956.0 56.9 L957.1 57.5 L958.2 58.1 L959.3 58.7 L960.4 59.3 L961.5 59.9 L962.6 60.5 L963.7 61.1 L964.8 61.6 L965.9 62.2 L967.0 62.7 L968.1 63.2 L969.2 63.6 L970.3 64.1 L971.5 64.5 L972.6 64.8 L973.7 65.1 L974.9 65.4 L976.0 65.6 L977.1 65.7 L978.3 65.8 L979.4 65.8 L980.5 65.8 L981.7 65.7 L982.8 65.5 L983.9 65.3 L985.0 65.0 L986.1 64.7 L987.2 64.3 L988.3 63.9 L989.4 63.5 L990.5 63.1 L991.5 62.6 L992.7 62.0 L993.8 61.5 L995.0 60.8 L996.2 60.2 L997.5 59.5 L998.7 58.8 L1000.0 58.0 L1001.4 57.3 L1002.8 56.5 L1004.5 55.7 L1006.1 54.8 L1007.7 54.0 L1009.0 53.4 L1010.0 52.9 L1009.7 52.2 L1008.7 52.7 L1007.4 53.3 L1005.8 54.1 L1004.1 54.9 L1002.4 55.7 L1000.9 56.5 L999.6 57.2 L998.2 57.8 L996.9 58.5 L995.7 59.2 L994.5 59.8 L993.3 60.4 L992.1 60.9 L991.0 61.4 L989.9 61.8 L988.9 62.2 L987.9 62.6 L986.8 62.9 L985.7 63.2 L984.7 63.5 L983.6 63.7 L982.5 63.9 L981.5 64.0 L980.5 64.1 L979.4 64.1 L978.4 64.0 L977.4 63.9 L976.3 63.7 L975.3 63.5 L974.2 63.2 L973.2 62.9 L972.2 62.5 L971.1 62.1 L970.1 61.7 L969.0 61.2 L968.0 60.7 L966.9 60.1 L965.8 59.6 L964.8 59.0 L963.7 58.4 L962.6 57.7 L961.6 57.1 L960.5 56.5 L959.5 55.9 L958.4 55.3 L957.4 54.6 L956.3 53.9 L955.2 53.2 L953.9 52.4 L952.5 51.5 L951.0 50.5 L949.7 49.6 L948.5 48.8 L947.7 48.3Z"/>
<path fill="#000" d="M1026.8 47.6C1027.0 45.9 1028.1 44.1 1029.5 42.7C1030.8 41.2 1033.3 40.3 1034.9 38.9C1036.5 37.4 1037.4 35.6 1039.3 34.0C1041.1 32.4 1043.6 30.7 1045.8 29.1C1047.9 27.6 1049.9 26.1 1052.3 24.8C1054.6 23.5 1057.2 22.2 1059.9 21.3C1062.6 20.4 1065.9 19.6 1068.6 19.1C1071.3 18.6 1073.8 18.3 1076.2 18.3C1078.5 18.3 1080.7 18.8 1082.7 19.1C1084.7 19.5 1086.6 19.7 1088.1 20.4C1089.6 21.2 1090.5 23.3 1091.9 23.7C1093.4 24.1 1094.9 23.1 1096.8 22.8C1098.7 22.5 1101.1 22.1 1103.3 22.1C1105.5 22.0 1108.0 22.0 1109.8 22.4C1111.6 22.7 1113.0 24.6 1114.2 24.2C1115.3 23.9 1116.1 21.5 1116.9 20.4C1117.7 19.3 1118.3 17.5 1119.0 17.7C1119.8 17.9 1120.7 20.3 1121.2 21.5C1121.8 22.7 1122.4 23.6 1122.3 24.8C1122.2 25.9 1121.4 27.5 1120.7 28.6C1120.0 29.7 1118.3 29.9 1118.0 31.3C1117.6 32.6 1118.6 34.9 1118.5 36.7C1118.4 38.5 1117.5 40.3 1117.4 42.1C1117.3 44.0 1117.7 46.3 1118.0 47.6C1118.2 48.8 1119.3 49.2 1119.0 49.7C1118.8 50.3 1116.5 50.3 1116.3 50.8C1116.2 51.4 1118.3 52.7 1118.0 53.0C1117.6 53.3 1115.2 52.3 1114.2 52.5C1113.2 52.6 1112.9 54.1 1112.0 54.1C1111.1 54.1 1110.2 52.5 1108.7 52.5C1107.3 52.4 1105.1 53.1 1103.3 53.5C1101.5 54.0 1099.7 54.6 1097.9 55.2C1096.1 55.7 1093.5 56.1 1092.4 56.8C1091.4 57.5 1091.0 58.3 1091.4 59.5C1091.7 60.7 1093.2 62.9 1094.6 63.9C1096.1 64.8 1098.3 64.7 1100.0 64.9C1101.8 65.2 1104.2 65.0 1104.9 65.5C1105.7 65.9 1105.2 67.4 1104.4 67.7C1103.6 67.9 1101.3 66.9 1100.0 67.1C1098.8 67.3 1097.5 68.0 1096.8 68.7C1096.1 69.5 1096.3 71.3 1095.7 71.5C1095.1 71.6 1093.9 69.7 1093.0 69.8C1092.1 69.9 1091.0 71.9 1090.3 72.0C1089.6 72.1 1089.2 70.5 1088.6 70.4C1088.1 70.2 1087.1 71.3 1087.0 70.9C1086.9 70.5 1087.7 69.1 1088.1 68.2C1088.5 67.3 1089.6 66.4 1089.2 65.5C1088.8 64.6 1087.2 63.7 1085.9 62.8C1084.7 61.9 1083.0 60.8 1081.6 60.1C1080.1 59.3 1078.5 58.5 1077.2 58.4C1076.0 58.3 1075.4 59.2 1074.0 59.5C1072.5 59.8 1070.6 60.0 1068.6 60.1C1066.6 60.1 1064.2 60.3 1062.1 60.1C1059.9 59.8 1057.5 58.8 1055.5 58.4C1053.5 58.1 1051.9 57.7 1050.1 57.9C1048.3 58.1 1046.1 58.8 1044.7 59.5C1043.2 60.2 1042.1 61.1 1041.4 62.2C1040.7 63.3 1040.0 65.0 1040.3 66.0C1040.7 67.0 1042.8 67.4 1043.6 68.2C1044.4 69.0 1045.4 70.2 1045.2 70.9C1045.0 71.6 1043.7 72.5 1042.5 72.5C1041.3 72.5 1039.4 71.1 1038.2 70.9C1036.9 70.7 1035.6 70.9 1034.9 71.5C1034.2 72.1 1034.2 74.1 1033.8 74.5C1033.4 74.9 1032.5 74.5 1032.5 73.6C1032.5 72.8 1033.4 70.7 1033.8 69.3C1034.2 67.8 1034.5 66.4 1034.9 64.9C1035.3 63.5 1035.1 62.0 1036.0 60.6C1036.9 59.2 1039.4 57.8 1040.3 56.8C1041.2 55.8 1042.0 55.3 1041.4 54.6C1040.9 53.9 1038.7 52.7 1037.1 52.5C1035.5 52.2 1033.2 53.0 1031.7 53.0C1030.1 53.0 1028.7 53.4 1027.9 52.5C1027.0 51.6 1026.5 49.2 1026.8 47.6Z"/>
<path fill="#000" d="M1029.1 45.9 L1028.1 46.8 L1026.8 48.0 L1025.1 49.4 L1023.4 50.9 L1021.8 52.4 L1020.5 53.6 L1019.4 54.5 L1018.5 55.3 L1017.6 56.1 L1016.8 56.9 L1015.9 57.7 L1015.1 58.6 L1014.2 59.6 L1013.4 60.7 L1012.7 61.8 L1011.9 62.8 L1011.2 63.9 L1010.5 65.0 L1009.7 66.1 L1009.0 67.2 L1008.2 68.3 L1007.5 69.5 L1006.8 70.6 L1006.0 71.8 L1005.3 73.0 L1004.5 74.2 L1003.7 75.4 L1003.0 76.6 L1002.3 77.8 L1001.6 78.9 L1000.9 80.1 L1000.2 81.2 L999.6 82.3 L999.0 83.3 L998.3 84.4 L997.7 85.4 L997.2 86.5 L996.6 87.5 L996.1 88.5 L995.6 89.4 L995.1 90.3 L994.6 91.2 L994.1 92.1 L993.6 93.0 L993.1 93.9 L992.6 94.7 L992.1 95.5 L991.6 96.3 L991.0 97.0 L990.4 97.8 L989.8 98.5 L989.2 99.3 L988.6 99.9 L987.9 100.6 L987.3 101.3 L986.6 101.9 L985.9 102.5 L985.2 103.0 L984.5 103.5 L983.8 103.9 L983.1 104.3 L982.4 104.6 L981.6 104.9 L980.8 105.1 L980.1 105.3 L979.3 105.3 L978.6 105.3 L977.8 105.3 L977.0 105.2 L976.2 105.0 L975.5 104.7 L974.9 104.4 L974.3 104.0 L973.7 103.6 L973.2 103.0 L972.6 102.4 L972.2 101.7 L971.8 101.1 L971.5 100.5 L971.3 99.9 L971.1 99.3 L971.0 98.6 L971.0 98.0 L971.0 97.3 L971.1 96.7 L971.3 96.0 L971.5 95.3 L971.8 94.6 L972.1 93.9 L972.4 93.3 L972.8 92.8 L973.4 92.3 L974.0 91.8 L974.6 91.3 L975.1 90.9 L975.5 90.6 L974.3 89.0 L973.9 89.3 L973.4 89.7 L972.7 90.2 L972.0 90.7 L971.3 91.4 L970.7 92.1 L970.2 92.8 L969.8 93.6 L969.4 94.5 L969.1 95.3 L968.9 96.2 L968.7 97.1 L968.7 98.0 L968.7 98.8 L968.8 99.7 L969.0 100.6 L969.3 101.4 L969.6 102.3 L970.1 103.1 L970.6 103.9 L971.3 104.7 L972.0 105.4 L972.8 106.1 L973.6 106.7 L974.5 107.1 L975.4 107.5 L976.4 107.8 L977.4 108.0 L978.4 108.1 L979.4 108.1 L980.4 108.0 L981.4 107.9 L982.4 107.6 L983.3 107.3 L984.3 106.9 L985.2 106.5 L986.1 106.0 L986.9 105.4 L987.8 104.8 L988.6 104.1 L989.3 103.5 L990.1 102.8 L990.8 102.1 L991.5 101.3 L992.2 100.6 L992.9 99.8 L993.5 99.0 L994.1 98.2 L994.8 97.3 L995.3 96.4 L995.9 95.6 L996.4 94.7 L997.0 93.8 L997.5 92.9 L998.1 92.0 L998.6 91.0 L999.1 90.1 L999.7 89.1 L1000.2 88.2 L1000.8 87.2 L1001.4 86.2 L1002.0 85.1 L1002.6 84.1 L1003.3 83.0 L1004.0 81.9 L1004.7 80.8 L1005.4 79.7 L1006.1 78.6 L1006.9 77.4 L1007.7 76.2 L1008.4 75.0 L1009.2 73.9 L1010.0 72.7 L1010.7 71.6 L1011.5 70.5 L1012.2 69.4 L1013.0 68.3 L1013.7 67.2 L1014.5 66.2 L1015.2 65.1 L1015.9 64.1 L1016.6 63.1 L1017.4 62.2 L1018.1 61.4 L1018.9 60.6 L1019.6 59.9 L1020.3 59.2 L1021.2 58.5 L1022.2 57.7 L1023.3 56.8 L1024.6 55.6 L1026.3 54.2 L1028.0 52.7 L1029.6 51.3 L1031.0 50.1 L1032.0 49.2Z"/>
<path fill="#000" d="M972.2 93.4 L972.6 93.1 L973.1 92.6 L973.7 92.0 L974.2 91.5 L974.8 91.0 L975.3 90.7 L975.8 90.4 L976.4 90.2 L977.0 90.1 L977.5 90.0 L978.0 90.0 L978.5 90.1 L979.0 90.2 L979.6 90.5 L980.2 90.8 L980.7 91.2 L981.2 91.6 L981.6 92.0 L982.0 92.4 L982.3 92.9 L982.6 93.5 L982.8 94.0 L983.0 94.5 L983.1 95.0 L983.1 95.5 L983.0 96.0 L982.9 96.6 L982.7 97.1 L982.5 97.6 L982.3 98.1 L982.0 98.5 L981.7 98.9 L981.3 99.2 L980.9 99.6 L980.4 99.8 L980.0 100.1 L979.6 100.3 L979.1 100.5 L978.6 100.6 L978.1 100.7 L977.7 100.8 L977.3 100.7 L976.9 100.6 L976.5 100.4 L976.1 100.1 L975.7 99.8 L975.4 99.4 L975.1 99.1 L974.8 98.7 L974.6 98.3 L974.4 97.9 L974.2 97.4 L974.1 97.0 L974.1 96.5 L974.1 96.1 L974.1 95.5 L974.2 95.0 L974.3 94.5 L974.5 94.1 L974.7 93.7 L975.0 93.3 L975.4 93.0 L975.8 92.7 L976.3 92.4 L976.8 92.2 L977.1 92.0 L976.6 91.1 L976.3 91.3 L975.8 91.5 L975.3 91.8 L974.8 92.2 L974.2 92.6 L973.8 93.0 L973.5 93.6 L973.3 94.2 L973.1 94.8 L973.0 95.4 L972.9 96.0 L972.9 96.6 L972.9 97.2 L973.1 97.8 L973.2 98.3 L973.5 98.9 L973.7 99.4 L974.1 99.8 L974.4 100.3 L974.8 100.7 L975.3 101.2 L975.8 101.5 L976.4 101.8 L977.0 102.0 L977.6 102.1 L978.3 102.1 L978.9 102.0 L979.5 101.8 L980.1 101.6 L980.7 101.4 L981.2 101.1 L981.7 100.8 L982.3 100.4 L982.7 99.9 L983.2 99.4 L983.6 98.9 L983.9 98.3 L984.2 97.7 L984.4 97.0 L984.6 96.3 L984.7 95.6 L984.7 94.9 L984.6 94.2 L984.4 93.5 L984.1 92.8 L983.8 92.1 L983.4 91.5 L982.9 90.9 L982.4 90.3 L981.8 89.8 L981.1 89.3 L980.4 88.9 L979.7 88.5 L978.9 88.3 L978.2 88.2 L977.4 88.2 L976.6 88.3 L975.9 88.4 L975.2 88.7 L974.4 89.0 L973.7 89.4 L973.0 90.0 L972.3 90.6 L971.7 91.2 L971.2 91.7 L970.9 92.0Z"/>
<path fill="#333333" d="M1149.4 53.3C1149.2 52.1 1150.7 50.9 1151.5 49.3C1152.2 47.7 1153.2 45.6 1153.8 43.5C1154.3 41.4 1154.4 39.0 1154.9 36.7C1155.4 34.4 1155.9 31.9 1156.6 29.8C1157.4 27.7 1158.5 25.7 1159.5 24.1C1160.4 22.4 1162.0 21.6 1162.3 20.1C1162.7 18.5 1161.4 16.4 1161.5 14.9C1161.7 13.4 1162.9 11.2 1163.5 11.2C1164.1 11.2 1164.5 13.9 1165.2 14.9C1165.9 15.9 1166.0 17.0 1167.5 17.0C1169.0 17.0 1171.9 15.3 1174.4 14.9C1176.9 14.5 1179.7 14.6 1182.4 14.3C1185.1 14.0 1187.7 13.8 1190.4 13.2C1193.1 12.5 1195.8 11.2 1198.4 10.5C1201.1 9.8 1203.8 9.3 1206.5 8.9C1209.1 8.6 1211.8 8.3 1214.5 8.3C1217.2 8.3 1219.8 8.5 1222.5 8.9C1225.2 9.4 1227.9 10.1 1230.5 10.9C1233.2 11.7 1235.9 12.6 1238.6 13.8C1241.2 14.9 1244.1 16.2 1246.6 17.8C1249.1 19.3 1251.3 21.2 1253.4 22.9C1255.6 24.6 1257.5 26.4 1259.2 28.1C1260.9 29.8 1262.5 31.7 1263.8 33.2C1265.0 34.8 1265.8 35.7 1266.6 37.2C1267.5 38.8 1268.0 40.6 1268.9 42.4C1269.9 44.2 1271.1 46.2 1272.4 48.1C1273.6 50.0 1274.9 52.1 1276.4 53.9C1277.8 55.6 1279.0 56.8 1281.0 58.4C1282.9 60.1 1285.5 62.1 1287.8 63.6C1290.1 65.1 1292.2 66.2 1294.7 67.6C1297.2 69.0 1300.1 70.7 1302.7 72.2C1305.4 73.7 1308.4 75.3 1310.7 76.8C1313.1 78.3 1315.4 79.8 1317.1 81.4C1318.7 82.9 1320.0 84.2 1320.5 85.9C1321.0 87.7 1320.8 90.1 1319.9 91.7C1319.1 93.3 1317.2 94.8 1315.3 95.7C1313.4 96.5 1310.9 96.7 1308.5 96.8C1306.0 96.9 1303.1 96.8 1300.4 96.3C1297.8 95.7 1294.7 94.4 1292.4 93.4C1290.1 92.3 1287.9 90.9 1286.7 90.0C1285.4 89.0 1284.6 87.8 1285.0 87.7C1285.3 87.6 1287.4 88.7 1289.0 89.4C1290.6 90.1 1292.6 91.1 1294.7 91.7C1296.8 92.3 1299.3 92.9 1301.6 93.1C1303.9 93.2 1306.5 93.1 1308.5 92.8C1310.4 92.5 1311.9 92.0 1313.0 91.1C1314.1 90.2 1315.1 88.9 1315.1 87.7C1315.1 86.4 1314.3 85.0 1313.0 83.7C1311.7 82.3 1309.4 81.0 1307.3 79.6C1305.2 78.3 1302.7 76.9 1300.4 75.6C1298.1 74.4 1295.9 73.3 1293.6 72.2C1291.3 71.0 1288.8 69.9 1286.7 68.8C1284.6 67.6 1282.5 66.4 1281.0 65.3C1279.4 64.3 1279.0 63.2 1277.5 62.5C1276.0 61.7 1273.7 61.3 1271.8 60.7C1269.9 60.2 1268.2 59.8 1266.1 59.4C1264.0 58.9 1261.5 58.2 1259.2 57.9C1256.9 57.5 1254.6 57.3 1252.3 57.3C1250.0 57.3 1246.9 57.1 1245.4 57.9C1244.0 58.6 1243.9 60.6 1243.7 61.9C1243.5 63.1 1244.8 64.6 1244.3 65.3C1243.8 66.1 1242.2 66.1 1240.8 66.5C1239.5 66.8 1237.5 66.8 1236.3 67.6C1235.0 68.4 1234.3 70.3 1233.4 71.0C1232.5 71.8 1231.4 72.5 1231.1 72.2C1230.8 71.9 1232.3 69.7 1231.7 69.3C1231.0 68.9 1228.4 70.0 1227.1 69.9C1225.8 69.8 1224.6 69.2 1223.7 68.8C1222.7 68.3 1221.2 67.6 1221.4 67.0C1221.6 66.5 1223.7 66.0 1224.8 65.3C1225.9 64.7 1228.0 63.6 1228.2 63.0C1228.4 62.5 1227.1 62.2 1225.9 61.9C1224.8 61.6 1222.5 61.8 1221.4 61.3C1220.2 60.8 1219.1 59.8 1219.1 59.0C1219.1 58.3 1221.7 57.3 1221.4 56.7C1221.0 56.2 1218.7 56.0 1216.8 55.6C1214.9 55.2 1212.0 54.7 1209.9 54.4C1207.8 54.1 1205.9 53.6 1204.2 53.9C1202.5 54.1 1201.1 55.2 1199.6 56.2C1198.1 57.1 1196.3 58.5 1195.0 59.6C1193.7 60.6 1193.1 61.7 1191.6 62.5C1190.0 63.2 1187.9 63.9 1185.8 64.2C1183.7 64.5 1180.7 64.5 1179.0 64.2C1177.2 63.9 1175.6 63.1 1175.5 62.5C1175.4 61.8 1177.1 60.5 1178.4 60.2C1179.7 59.8 1182.3 60.6 1183.5 60.2C1184.8 59.7 1186.2 57.9 1185.8 57.3C1185.5 56.7 1182.6 57.1 1181.3 56.7C1179.9 56.3 1178.0 55.6 1177.8 55.0C1177.6 54.4 1178.8 53.3 1180.1 52.9C1181.4 52.6 1184.5 53.1 1185.8 52.7C1187.2 52.3 1188.3 51.4 1188.1 50.4C1187.9 49.5 1185.9 47.9 1184.7 47.0C1183.5 46.0 1182.2 44.7 1180.7 44.7C1179.2 44.7 1177.3 46.2 1175.5 47.0C1173.7 47.7 1171.9 48.5 1169.8 49.3C1167.7 50.0 1165.0 50.6 1162.9 51.6C1160.8 52.5 1158.9 54.2 1157.2 55.0C1155.5 55.8 1153.9 56.4 1152.6 56.2C1151.3 55.9 1149.6 54.4 1149.4 53.3Z"/>
<path fill="#000" d="M1296.2 56.9C1296.2 56.4 1297.1 52.6 1298.3 50.6C1299.6 48.7 1301.6 46.8 1303.9 45.1C1306.2 43.4 1309.0 41.7 1312.2 40.2C1315.4 38.8 1319.4 37.5 1323.3 36.3C1327.2 35.2 1332.1 34.2 1335.8 33.3C1339.5 32.4 1342.5 31.6 1345.5 30.8C1348.5 30.0 1350.8 29.3 1353.8 28.4C1356.8 27.6 1360.3 26.6 1363.5 25.7C1366.8 24.7 1370.0 23.8 1373.2 22.9C1376.5 22.0 1379.7 21.0 1382.9 20.1C1386.2 19.2 1389.4 18.1 1392.7 17.3C1395.9 16.6 1399.4 15.8 1402.4 15.5C1405.4 15.3 1407.9 16.0 1410.7 16.0C1413.5 16.0 1416.2 15.3 1419.0 15.5C1421.8 15.8 1424.3 16.9 1427.3 17.3C1430.3 17.8 1433.8 18.2 1437.0 18.3C1440.3 18.4 1443.7 17.7 1446.8 18.0C1449.8 18.3 1452.3 19.4 1455.1 20.1C1457.9 20.8 1460.6 21.5 1463.4 22.2C1466.2 22.9 1469.4 23.8 1471.7 24.3C1474.0 24.7 1475.8 25.0 1477.3 25.0C1478.8 24.9 1479.7 23.7 1480.7 23.9C1481.8 24.0 1482.5 24.8 1483.5 25.7C1484.6 26.5 1485.7 27.7 1487.0 29.1C1488.3 30.5 1489.8 32.3 1491.1 34.0C1492.5 35.7 1493.9 37.8 1495.3 39.5C1496.7 41.3 1498.1 42.9 1499.5 44.4C1500.9 45.9 1502.8 47.4 1503.6 48.6C1504.5 49.7 1505.2 50.6 1504.7 51.3C1504.3 52.1 1502.7 52.8 1500.9 53.0C1499.1 53.2 1496.2 52.9 1493.9 52.7C1491.6 52.6 1489.3 52.3 1487.0 52.0C1484.7 51.7 1482.4 51.4 1480.0 51.0C1477.7 50.7 1475.0 50.2 1473.1 50.2C1471.3 50.3 1469.0 50.6 1469.0 51.3C1469.0 52.1 1471.7 53.6 1473.1 54.8C1474.5 56.0 1476.0 57.2 1477.3 58.3C1478.5 59.3 1479.1 60.4 1480.7 61.0C1482.4 61.7 1485.8 61.6 1487.0 62.1C1488.1 62.7 1488.4 63.7 1487.7 64.1C1487.0 64.5 1484.6 64.7 1482.8 64.5C1481.1 64.3 1479.1 63.9 1477.3 63.1C1475.4 62.3 1473.8 60.7 1471.7 59.7C1469.6 58.6 1467.1 57.7 1464.8 56.9C1462.5 56.1 1459.9 55.5 1457.9 54.8C1455.8 54.1 1454.4 53.2 1452.3 52.7C1450.2 52.3 1447.4 52.3 1445.4 52.0C1443.3 51.8 1441.6 51.2 1439.8 51.3C1438.1 51.4 1436.1 51.8 1435.0 52.7C1433.8 53.6 1433.6 55.5 1432.9 56.9C1432.2 58.3 1430.6 60.0 1430.8 61.0C1431.0 62.1 1433.2 62.5 1434.3 63.1C1435.3 63.8 1437.5 64.6 1437.0 64.9C1436.6 65.3 1433.3 65.3 1431.5 65.2C1429.6 65.1 1427.0 65.7 1425.9 64.5C1424.9 63.3 1425.5 60.7 1425.3 58.3C1425.0 55.8 1425.4 51.3 1424.6 49.9C1423.8 48.6 1421.2 49.0 1420.4 49.9C1419.6 50.9 1419.7 53.6 1419.7 55.5C1419.7 57.3 1419.5 59.9 1420.4 61.0C1421.3 62.2 1424.8 61.7 1425.3 62.4C1425.7 63.1 1424.1 64.9 1423.2 65.2C1422.2 65.5 1420.9 64.8 1419.7 64.1C1418.5 63.4 1417.3 62.2 1416.2 61.0C1415.2 59.8 1414.4 58.5 1413.5 56.9C1412.5 55.3 1412.1 52.4 1410.7 51.3C1409.3 50.3 1407.0 50.9 1405.1 50.6C1403.3 50.4 1401.2 50.1 1399.6 49.9C1398.0 49.8 1397.0 49.3 1395.4 49.7C1393.8 50.0 1391.7 51.3 1389.9 52.0C1388.0 52.8 1386.2 53.3 1384.3 54.1C1382.5 54.9 1380.2 56.1 1378.8 56.9C1377.4 57.7 1375.5 58.4 1376.0 59.0C1376.5 59.5 1380.5 59.8 1381.6 60.3C1382.6 60.9 1383.2 61.8 1382.2 62.1C1381.3 62.5 1377.9 62.7 1376.0 62.7C1374.2 62.7 1372.4 63.0 1371.2 62.4C1369.9 61.8 1369.1 60.1 1368.8 59.0C1368.4 57.8 1368.3 56.6 1369.1 55.5C1369.8 54.3 1371.8 53.1 1373.2 52.0C1374.6 51.0 1376.2 50.5 1377.4 49.2C1378.6 48.0 1379.9 46.0 1380.2 44.4C1380.4 42.8 1379.5 41.2 1378.8 39.5C1378.1 37.9 1377.6 35.5 1376.0 34.7C1374.4 33.9 1371.6 34.5 1369.1 34.7C1366.5 34.9 1363.5 35.7 1360.7 35.8C1358.0 35.9 1355.2 35.2 1352.4 35.4C1349.7 35.5 1346.9 36.1 1344.1 36.8C1341.3 37.4 1338.8 38.4 1335.8 39.1C1332.8 39.8 1329.3 40.3 1326.1 40.9C1322.8 41.6 1319.4 42.2 1316.4 43.0C1313.4 43.8 1310.5 44.7 1308.0 45.8C1305.6 46.8 1303.4 48.0 1301.8 49.2C1300.2 50.5 1299.2 52.1 1298.3 53.4C1297.4 54.7 1296.2 57.3 1296.2 56.9Z"/>
<path fill="#000" d="M1548.5 40.5C1548.5 39.2 1549.2 37.0 1549.9 35.8C1550.6 34.5 1552.0 34.1 1552.7 33.0C1553.4 31.9 1553.9 30.7 1554.1 29.3C1554.2 27.9 1553.1 25.0 1553.4 24.6C1553.7 24.2 1555.1 26.5 1555.9 26.9C1556.7 27.4 1557.2 27.4 1558.3 27.4C1559.3 27.4 1560.8 27.2 1562.0 26.9C1563.2 26.7 1564.5 26.5 1565.3 26.0C1566.0 25.5 1566.0 24.3 1566.7 23.7C1567.3 23.0 1568.3 22.2 1569.0 22.3C1569.7 22.3 1570.4 23.4 1570.9 24.1C1571.3 24.9 1571.1 26.2 1571.8 26.9C1572.5 27.7 1573.7 28.2 1575.1 28.8C1576.4 29.4 1578.0 30.1 1579.7 30.7C1581.4 31.2 1583.6 31.9 1585.3 32.1C1587.0 32.2 1588.6 31.9 1590.0 31.6C1591.4 31.3 1592.6 30.2 1593.7 30.2C1594.8 30.2 1595.9 30.7 1596.5 31.6C1597.1 32.5 1597.4 34.3 1597.4 35.8C1597.5 37.3 1596.5 39.9 1597.0 40.5C1597.4 41.0 1599.3 39.4 1600.2 39.1C1601.2 38.7 1602.0 38.3 1602.6 38.6C1603.2 38.9 1603.6 39.8 1603.8 40.9C1604.0 42.0 1603.6 43.6 1603.5 45.1C1603.4 46.6 1603.2 48.2 1603.0 49.8C1602.9 51.3 1602.5 53.1 1602.6 54.5C1602.7 55.9 1602.8 57.3 1603.5 58.2C1604.2 59.0 1605.8 59.5 1606.8 59.6C1607.8 59.7 1608.5 59.0 1609.6 58.7C1610.7 58.3 1612.2 57.6 1613.3 57.7C1614.4 57.8 1615.4 58.3 1616.1 59.1C1616.8 59.9 1617.7 61.9 1617.5 62.4C1617.4 62.9 1615.9 62.2 1615.2 61.9C1614.5 61.6 1613.8 60.5 1613.3 60.5C1612.8 60.6 1612.9 62.0 1612.4 62.1C1611.8 62.2 1610.8 61.0 1610.0 61.0C1609.3 61.0 1608.7 62.0 1607.7 62.1C1606.7 62.3 1605.1 62.1 1604.0 61.9C1602.8 61.7 1601.3 61.9 1600.7 61.0C1600.1 60.1 1600.6 57.7 1600.2 56.3C1599.9 54.9 1599.0 53.5 1598.4 52.6C1597.8 51.7 1596.7 50.3 1596.5 50.7C1596.3 51.2 1596.9 53.7 1597.0 55.4C1597.1 57.1 1597.1 59.1 1597.0 61.0C1596.9 62.9 1596.5 65.0 1596.5 66.6C1596.5 68.1 1596.2 69.5 1597.0 70.3C1597.8 71.1 1599.9 71.2 1601.2 71.4C1602.5 71.7 1603.9 71.2 1604.9 71.7C1605.9 72.2 1607.6 74.2 1607.2 74.5C1606.9 74.8 1604.5 73.8 1603.0 73.6C1601.6 73.4 1599.9 73.2 1598.4 73.1C1596.8 73.0 1594.9 73.1 1593.7 72.9C1592.5 72.8 1591.5 73.2 1591.1 72.2C1590.7 71.1 1591.2 68.5 1591.4 66.6C1591.6 64.7 1592.2 62.5 1592.3 61.0C1592.4 59.4 1592.4 57.4 1591.9 57.3C1591.3 57.1 1590.3 59.2 1589.1 60.1C1587.8 60.9 1586.1 61.6 1584.4 62.1C1582.7 62.6 1580.7 62.8 1578.8 62.9C1576.9 62.9 1574.6 62.3 1573.2 62.4C1571.8 62.5 1571.3 62.9 1570.4 63.3C1569.5 63.7 1568.8 64.6 1567.6 64.7C1566.3 64.8 1564.5 64.1 1562.9 64.0C1561.4 63.8 1559.7 64.1 1558.3 63.8C1556.9 63.5 1555.9 62.4 1554.5 62.4C1553.1 62.4 1551.3 63.3 1549.9 63.8C1548.5 64.3 1547.0 64.4 1546.1 65.2C1545.3 66.0 1545.5 67.7 1544.7 68.5C1544.0 69.2 1542.8 69.3 1541.5 69.6C1540.1 69.9 1538.1 70.3 1536.8 70.3C1535.5 70.4 1533.8 70.2 1533.5 69.9C1533.2 69.5 1533.9 68.8 1534.9 68.5C1535.9 68.1 1538.7 68.2 1539.6 67.5C1540.5 66.8 1539.4 65.3 1540.1 64.3C1540.7 63.2 1542.0 62.2 1543.3 61.0C1544.7 59.8 1546.6 58.4 1548.0 57.3C1549.4 56.1 1550.3 54.9 1551.7 54.0C1553.1 53.1 1555.9 52.7 1556.4 51.7C1556.9 50.6 1555.2 49.0 1554.5 47.9C1553.8 46.8 1553.0 45.9 1552.2 45.1C1551.3 44.3 1550.0 44.0 1549.4 43.3C1548.8 42.5 1548.4 41.7 1548.5 40.5Z"/>
<path fill="#000" d="M1538.2 139.6C1538.7 139.6 1540.1 141.3 1541.5 141.5C1542.8 141.6 1545.3 141.5 1546.1 140.5C1547.0 139.5 1546.7 137.3 1546.6 135.4C1546.5 133.4 1546.0 131.0 1545.7 128.9C1545.3 126.7 1544.7 123.9 1544.3 122.3C1543.8 120.8 1543.6 120.0 1542.9 119.5C1542.2 119.1 1540.1 119.8 1540.1 119.5C1540.1 119.2 1542.4 118.9 1542.9 117.7C1543.3 116.4 1542.6 114.1 1542.9 112.1C1543.1 110.0 1543.3 107.7 1544.3 105.5C1545.3 103.4 1547.4 100.7 1548.9 99.0C1550.5 97.3 1552.0 96.1 1553.6 95.3C1555.1 94.5 1556.8 94.2 1558.3 94.1C1559.7 94.1 1561.4 94.3 1562.5 94.8C1563.5 95.3 1564.2 95.8 1564.8 97.1C1565.4 98.5 1565.6 100.7 1566.2 102.7C1566.7 104.8 1567.4 107.2 1568.1 109.3C1568.8 111.3 1569.7 113.1 1570.4 114.9C1571.1 116.6 1571.7 119.4 1572.3 119.5C1572.8 119.7 1573.1 117.0 1573.7 115.8C1574.2 114.5 1574.5 113.1 1575.5 112.1C1576.5 111.0 1578.1 110.3 1579.7 109.3C1581.4 108.3 1583.3 107.1 1585.3 106.0C1587.3 104.9 1589.8 103.8 1591.9 102.7C1593.9 101.6 1595.7 100.4 1597.4 99.5C1599.2 98.5 1600.4 97.7 1602.1 97.1C1603.8 96.6 1605.8 96.2 1607.7 96.2C1609.6 96.2 1611.8 96.7 1613.3 97.1C1614.9 97.6 1616.1 98.4 1617.0 99.0C1617.9 99.6 1619.2 100.5 1618.7 100.9C1618.3 101.3 1615.5 100.9 1614.2 101.3C1613.0 101.8 1611.9 102.5 1611.0 103.7C1610.0 104.8 1609.2 106.6 1608.6 108.3C1608.1 110.0 1607.9 112.4 1607.7 113.9C1607.5 115.5 1608.2 116.9 1607.2 117.7C1606.3 118.4 1603.7 118.0 1602.1 118.6C1600.5 119.2 1598.8 120.1 1597.4 121.4C1596.1 122.6 1595.0 124.3 1594.2 126.1C1593.3 127.8 1592.9 129.8 1592.3 131.7C1591.8 133.5 1591.2 135.9 1590.9 137.3C1590.6 138.7 1591.4 139.6 1590.5 140.1C1589.5 140.5 1586.7 139.7 1585.3 140.1C1583.9 140.4 1582.8 141.0 1582.1 141.9C1581.3 142.9 1580.7 144.3 1580.7 145.7C1580.6 147.1 1581.0 148.8 1581.6 150.3C1582.2 151.9 1583.3 153.9 1584.4 155.0C1585.5 156.1 1587.7 156.2 1588.1 156.9C1588.6 157.6 1588.0 159.0 1587.2 159.2C1586.4 159.4 1584.5 158.1 1583.5 158.3C1582.4 158.4 1581.9 160.0 1580.7 160.1C1579.4 160.3 1577.7 159.3 1576.0 159.2C1574.3 159.1 1572.1 159.2 1570.4 159.7C1568.7 160.1 1567.4 161.6 1565.7 161.7C1564.0 161.8 1562.0 160.7 1560.1 160.1C1558.3 159.5 1556.2 159.1 1554.5 158.3C1552.8 157.4 1551.1 156.0 1549.9 155.0C1548.6 154.0 1548.0 152.4 1547.1 152.2C1546.1 152.0 1545.2 153.4 1544.3 153.6C1543.3 153.8 1542.3 154.1 1541.5 153.6C1540.6 153.0 1539.8 151.0 1539.1 150.3C1538.5 149.6 1537.6 149.7 1537.7 149.2C1537.9 148.7 1539.6 148.4 1540.1 147.5C1540.5 146.6 1540.8 144.8 1540.5 143.8C1540.3 142.8 1539.1 142.2 1538.7 141.5C1538.3 140.8 1537.7 139.6 1538.2 139.6Z"/>
<path fill="none" stroke="#777" stroke-width="0.5" d="M1580.7 110.4C1581.7 110.1 1584.9 109.2 1587.2 108.8C1589.5 108.4 1592.5 107.6 1594.7 107.9C1596.8 108.2 1598.7 109.6 1600.2 110.7C1601.8 111.7 1603.4 113.5 1604.0 114.1"/>
<path fill="none" stroke="#777" stroke-width="0.5" d="M1580.2 120.6C1580.9 121.9 1582.7 124.9 1584.4 127.9C1586.0 131.0 1589.2 137.1 1590.2 138.9"/>
<path fill="#000" d="M1537.7 234.6C1537.8 234.5 1539.3 236.8 1540.1 236.9C1540.8 237.1 1541.7 236.1 1542.4 235.5C1543.1 234.9 1544.1 233.9 1544.4 233.2C1544.8 232.5 1544.3 231.4 1544.7 231.3C1545.2 231.3 1546.0 233.0 1547.1 233.0C1548.1 233.0 1549.5 231.7 1550.8 231.5C1552.0 231.3 1553.5 231.5 1554.5 231.8C1555.5 232.0 1555.9 233.0 1556.9 233.0C1557.8 233.0 1559.1 232.1 1560.1 231.8C1561.1 231.4 1562.2 231.7 1562.9 230.9C1563.6 230.0 1564.0 228.4 1564.3 226.7C1564.6 224.9 1564.9 222.1 1564.8 220.1C1564.7 218.1 1564.2 215.9 1563.9 214.5C1563.5 213.1 1562.3 212.8 1562.5 211.7C1562.6 210.6 1563.9 209.7 1564.8 208.0C1565.6 206.3 1566.7 203.6 1567.6 201.5C1568.5 199.4 1569.1 197.0 1570.4 195.4C1571.6 193.8 1573.6 192.9 1575.1 191.7C1576.5 190.5 1577.9 188.4 1579.3 188.2C1580.7 188.0 1582.3 189.6 1583.5 190.3C1584.6 190.9 1585.4 191.2 1586.3 192.1C1587.1 193.1 1588.1 194.9 1588.6 195.9C1589.1 196.8 1589.2 196.8 1589.1 197.7C1588.9 198.7 1587.9 200.1 1587.7 201.5C1587.4 202.9 1586.8 205.8 1587.4 206.1C1587.9 206.4 1589.5 204.4 1590.9 203.3C1592.3 202.2 1593.9 200.9 1595.6 199.6C1597.3 198.3 1599.5 196.3 1601.2 195.4C1602.9 194.5 1604.5 194.4 1605.8 194.2C1607.2 193.9 1608.7 193.2 1609.1 193.8C1609.5 194.4 1608.4 196.3 1608.2 197.7C1607.9 199.2 1607.6 200.7 1607.7 202.4C1607.9 204.1 1608.6 206.6 1609.1 208.0C1609.6 209.4 1610.9 209.7 1610.7 210.8C1610.5 211.9 1608.7 213.0 1607.7 214.5C1606.7 216.1 1605.6 218.1 1604.9 220.1C1604.2 222.1 1603.8 224.7 1603.5 226.7C1603.2 228.6 1603.9 230.7 1603.2 231.8C1602.5 232.9 1600.7 232.5 1599.3 233.2C1597.9 233.9 1595.9 234.9 1594.7 236.0C1593.4 237.1 1592.4 238.3 1591.9 239.7C1591.3 241.1 1591.0 243.4 1591.4 244.4C1591.8 245.4 1593.8 245.2 1594.2 245.8C1594.6 246.4 1592.9 247.6 1593.7 248.1C1594.6 248.7 1598.1 248.6 1599.3 249.1C1600.5 249.5 1601.5 250.8 1601.0 251.1C1600.5 251.4 1598.0 250.8 1596.5 250.7C1595.0 250.7 1593.4 251.1 1591.9 250.9C1590.3 250.7 1588.7 249.8 1587.2 249.5C1585.6 249.2 1583.6 248.8 1582.5 249.2C1581.4 249.7 1581.7 251.4 1580.7 252.3C1579.6 253.2 1577.4 254.1 1576.0 254.7C1574.6 255.2 1573.1 255.8 1572.3 255.8C1571.4 255.7 1571.9 254.6 1570.9 254.2C1569.8 253.8 1567.4 253.7 1565.7 253.3C1564.1 252.8 1562.5 252.1 1561.1 251.4C1559.7 250.7 1558.3 249.8 1557.3 249.1C1556.3 248.4 1556.2 247.7 1555.0 247.2C1553.7 246.7 1551.5 246.7 1549.9 246.3C1548.2 245.8 1546.7 245.0 1545.2 244.4C1543.7 243.8 1542.0 243.0 1541.0 242.5C1540.0 242.1 1539.5 242.2 1539.1 241.6C1538.7 241.0 1538.6 239.5 1538.7 238.8C1538.7 238.1 1539.6 238.1 1539.4 237.4C1539.3 236.7 1537.6 234.7 1537.7 234.6Z"/>
<path fill="#333333" d="M1473.3 271.5C1473.6 270.0 1474.4 269.2 1475.3 268.7C1476.1 268.3 1477.4 268.1 1478.5 268.7C1479.5 269.3 1480.3 271.8 1481.7 272.2C1483.1 272.6 1485.0 271.4 1486.8 271.3C1488.6 271.1 1491.0 271.2 1492.6 271.3C1494.2 271.4 1495.4 272.4 1496.4 271.8C1497.5 271.2 1498.2 268.7 1499.0 268.0C1499.9 267.2 1500.8 267.0 1501.6 267.4C1502.3 267.9 1503.1 269.2 1503.5 270.9C1503.9 272.7 1503.4 276.5 1504.1 278.0C1504.9 279.4 1506.4 279.5 1508.0 279.5C1509.6 279.5 1511.7 278.9 1513.8 278.2C1515.8 277.5 1518.0 276.2 1520.2 275.4C1522.3 274.6 1523.8 274.0 1526.6 273.5C1529.4 272.9 1533.2 272.6 1536.9 272.2C1540.5 271.8 1544.6 271.3 1548.4 270.9C1552.3 270.5 1556.3 270.3 1560.0 270.0C1563.6 269.7 1566.8 269.2 1570.2 269.2C1573.6 269.2 1577.3 269.5 1580.5 270.0C1583.7 270.5 1586.7 271.3 1589.5 272.2C1592.3 273.1 1594.8 274.2 1597.2 275.4C1599.5 276.6 1601.7 277.9 1603.6 279.2C1605.5 280.6 1607.2 282.0 1608.7 283.7C1610.2 285.5 1611.5 287.3 1612.6 289.5C1613.6 291.8 1614.2 294.6 1614.9 297.2C1615.5 299.8 1615.8 302.3 1616.4 304.9C1617.0 307.5 1617.6 310.3 1618.3 312.6C1619.1 315.0 1619.7 317.1 1620.9 319.0C1622.1 321.0 1623.6 322.8 1625.4 324.2C1627.2 325.6 1629.9 326.9 1631.8 327.4C1633.7 327.8 1635.4 327.3 1637.0 326.7C1638.6 326.2 1640.4 325.1 1641.4 324.2C1642.5 323.2 1642.5 321.5 1643.4 321.0C1644.2 320.4 1645.8 320.5 1646.6 321.0C1647.3 321.4 1648.0 322.3 1647.9 323.5C1647.8 324.7 1646.9 326.6 1645.9 328.0C1645.0 329.4 1643.8 330.8 1642.1 331.9C1640.4 332.9 1638.0 333.7 1635.7 334.2C1633.3 334.6 1630.3 334.7 1628.0 334.4C1625.6 334.2 1623.5 333.6 1621.6 332.5C1619.6 331.4 1617.9 329.6 1616.4 328.0C1614.9 326.4 1613.7 324.8 1612.6 322.9C1611.4 321.0 1610.3 318.8 1609.4 316.5C1608.4 314.1 1607.5 311.4 1606.8 308.8C1606.0 306.1 1605.6 301.1 1604.9 300.4C1604.1 299.8 1603.4 303.3 1602.3 304.9C1601.2 306.5 1599.5 308.3 1598.5 310.0C1597.4 311.8 1596.4 313.3 1595.9 315.2C1595.4 317.1 1595.2 319.7 1595.6 321.6C1596.1 323.5 1597.2 324.7 1598.5 326.7C1599.7 328.8 1602.9 331.6 1603.3 333.8C1603.8 335.9 1601.9 337.5 1601.0 339.6C1600.1 341.6 1598.8 343.8 1597.8 346.0C1596.9 348.1 1596.0 350.7 1595.2 352.4C1594.5 354.1 1594.5 355.2 1593.3 356.2C1592.1 357.3 1589.7 358.0 1588.2 358.6C1586.7 359.1 1585.2 358.9 1584.3 359.5C1583.5 360.0 1584.1 361.5 1583.1 362.0C1582.0 362.5 1579.4 362.5 1577.9 362.4C1576.4 362.3 1575.0 362.1 1574.1 361.4C1573.1 360.7 1572.2 359.2 1572.2 358.2C1572.2 357.1 1572.9 355.7 1574.1 355.0C1575.3 354.3 1577.7 355.0 1579.2 353.9C1580.7 352.9 1582.0 350.5 1583.1 348.5C1584.1 346.6 1585.4 344.1 1585.6 342.1C1585.8 340.2 1585.4 338.7 1584.3 337.0C1583.3 335.3 1581.1 333.5 1579.2 331.9C1577.3 330.3 1574.7 329.1 1572.8 327.4C1570.9 325.7 1569.2 323.6 1567.7 321.6C1566.2 319.6 1564.9 317.2 1563.8 315.2C1562.7 313.1 1562.3 310.0 1561.2 309.4C1560.2 308.8 1558.7 310.5 1557.4 311.3C1556.1 312.2 1555.0 313.7 1553.5 314.5C1552.0 315.4 1550.3 315.8 1548.4 316.5C1546.5 317.1 1544.3 317.8 1542.0 318.4C1539.6 319.0 1537.1 319.6 1534.3 320.1C1531.5 320.5 1528.1 321.0 1525.3 321.3C1522.5 321.7 1518.9 321.1 1517.6 322.2C1516.3 323.3 1518.3 325.8 1517.6 328.0C1517.0 330.3 1515.0 333.4 1513.8 335.7C1512.5 338.1 1510.9 340.2 1509.9 342.1C1509.0 344.1 1508.0 345.5 1508.0 347.3C1508.0 349.0 1509.9 351.0 1509.9 352.4C1509.9 353.8 1509.3 354.9 1508.0 355.6C1506.7 356.4 1503.6 356.1 1502.2 356.9C1500.8 357.6 1500.9 359.4 1499.6 360.1C1498.4 360.8 1496.1 361.1 1494.5 361.1C1492.9 361.1 1491.0 360.7 1490.0 360.1C1489.0 359.5 1488.2 358.6 1488.4 357.5C1488.5 356.5 1489.5 354.7 1490.7 353.7C1491.8 352.6 1493.8 352.6 1495.2 351.1C1496.5 349.6 1498.4 347.0 1498.6 344.7C1498.8 342.3 1497.3 339.6 1496.4 337.0C1495.5 334.4 1494.3 332.1 1493.2 329.3C1492.2 326.5 1491.1 323.1 1490.0 320.3C1489.0 317.5 1487.7 315.2 1486.8 312.6C1486.0 310.0 1485.3 307.3 1484.9 304.9C1484.5 302.6 1485.0 300.1 1484.2 298.5C1483.5 296.9 1481.7 296.3 1480.4 295.3C1479.1 294.3 1477.4 294.0 1476.5 292.7C1475.7 291.4 1475.2 289.3 1475.0 287.6C1474.8 285.9 1475.7 284.1 1475.5 282.5C1475.4 280.9 1474.3 279.8 1474.0 278.0C1473.6 276.1 1473.1 273.1 1473.3 271.5Z"/>
<path fill="#000" d="M1492.2 391.7C1492.4 391.1 1494.4 388.6 1496.0 387.0C1497.7 385.4 1499.9 383.6 1502.0 382.0C1504.0 380.3 1505.8 378.4 1508.3 377.3C1510.8 376.2 1514.0 375.7 1517.2 375.4C1520.3 375.0 1523.6 375.2 1527.3 375.2C1530.9 375.2 1536.3 374.9 1539.1 375.4C1541.9 375.8 1542.2 376.8 1544.2 377.7C1546.1 378.6 1549.0 379.6 1550.9 380.7C1552.9 381.8 1554.3 383.9 1556.0 384.5C1557.7 385.1 1559.7 384.6 1561.1 384.5C1562.5 384.4 1563.7 384.6 1564.4 384.1C1565.2 383.6 1565.1 381.7 1565.7 381.5C1566.3 381.3 1566.8 382.5 1567.8 382.8C1568.9 383.1 1570.8 383.3 1572.0 383.2C1573.3 383.2 1574.4 383.0 1575.4 382.4C1576.4 381.7 1577.5 380.4 1577.9 379.4C1578.4 378.4 1578.7 377.1 1578.4 376.5C1578.1 375.8 1576.0 376.2 1576.3 375.6C1576.5 375.1 1578.2 373.6 1579.6 373.1C1581.0 372.6 1583.0 372.4 1584.7 372.5C1586.4 372.6 1588.1 373.1 1589.8 373.9C1591.5 374.8 1593.3 376.3 1594.8 377.7C1596.4 379.2 1597.8 381.1 1599.1 382.8C1600.3 384.5 1601.3 386.2 1602.4 387.9C1603.6 389.6 1605.6 391.9 1605.8 392.9C1606.0 393.9 1604.3 393.1 1603.7 393.8C1603.1 394.5 1602.7 396.0 1602.4 397.2C1602.2 398.3 1602.7 400.2 1602.0 400.5C1601.3 400.8 1599.1 398.8 1598.2 398.8C1597.4 398.8 1597.1 399.6 1596.9 400.5C1596.8 401.4 1597.9 403.8 1597.4 404.3C1596.9 404.8 1595.3 403.6 1594.0 403.5C1592.7 403.4 1591.5 403.5 1589.8 403.9C1588.1 404.3 1585.7 405.2 1583.9 406.0C1582.0 406.8 1579.8 407.6 1578.8 408.6C1577.7 409.5 1578.0 411.2 1577.5 411.9C1577.0 412.6 1576.2 413.1 1575.8 412.8C1575.5 412.4 1575.8 410.7 1575.4 409.8C1575.1 408.9 1574.2 408.3 1573.7 407.3C1573.2 406.3 1573.0 403.8 1572.5 403.9C1571.9 404.0 1571.1 406.8 1570.3 407.7C1569.6 408.6 1568.7 408.6 1568.2 409.4C1567.8 410.2 1568.1 412.3 1567.8 412.8C1567.5 413.3 1566.8 413.1 1566.6 412.4C1566.3 411.6 1567.2 409.5 1566.1 408.6C1565.1 407.6 1562.2 407.4 1560.2 406.9C1558.2 406.3 1556.3 405.9 1554.3 405.2C1552.3 404.5 1550.4 403.4 1548.4 402.6C1546.4 401.9 1544.3 401.0 1542.5 400.5C1540.7 400.1 1539.1 399.8 1537.4 399.9C1535.7 399.9 1533.8 401.0 1532.4 400.7C1530.9 400.4 1530.2 398.9 1529.0 398.0C1527.7 397.1 1526.3 395.6 1524.8 395.0C1523.2 394.5 1521.5 394.6 1519.7 394.6C1517.9 394.7 1515.4 395.0 1513.8 395.3C1512.2 395.6 1511.1 396.6 1510.0 396.3C1508.9 396.1 1508.1 394.6 1507.0 393.8C1506.0 392.9 1504.9 391.9 1503.6 391.2C1502.4 390.6 1500.8 390.1 1499.4 390.0C1498.0 389.9 1496.4 390.3 1495.2 390.6C1494.0 390.8 1492.1 392.3 1492.2 391.7Z"/>
<path fill="#000" d="M1413.8 497.0C1413.8 494.7 1413.9 491.2 1414.6 488.3C1415.4 485.4 1416.5 482.4 1418.1 479.5C1419.7 476.6 1422.1 473.5 1424.3 470.8C1426.4 468.0 1428.9 465.5 1431.3 462.9C1433.6 460.3 1435.9 457.4 1438.3 455.0C1440.6 452.7 1443.4 450.3 1445.3 448.9C1447.2 447.4 1448.9 448.3 1449.6 446.3C1450.4 444.2 1449.2 438.9 1449.6 436.6C1450.1 434.4 1451.3 433.1 1452.3 432.6C1453.3 432.1 1455.0 432.5 1455.8 433.7C1456.6 434.8 1456.9 437.7 1457.2 439.3C1457.5 440.8 1455.7 442.2 1457.5 442.8C1459.3 443.3 1464.2 442.8 1468.0 442.4C1471.8 442.1 1475.6 441.1 1480.3 440.7C1485.0 440.2 1490.8 439.9 1496.0 439.6C1501.3 439.3 1506.8 439.2 1511.8 438.9C1516.8 438.6 1521.1 438.5 1525.8 437.9C1530.5 437.2 1535.1 436.0 1539.8 434.9C1544.5 433.8 1549.2 432.5 1553.8 431.4C1558.5 430.2 1563.5 428.7 1567.8 427.9C1572.2 427.1 1576.0 426.7 1580.1 426.7C1584.2 426.7 1588.3 427.2 1592.3 427.9C1596.4 428.6 1600.5 429.6 1604.6 430.9C1608.7 432.1 1613.1 433.7 1616.9 435.4C1620.6 437.1 1624.3 438.9 1627.4 441.0C1630.4 443.1 1633.1 445.4 1635.2 448.0C1637.4 450.6 1639.4 453.9 1640.5 456.8C1641.6 459.7 1641.9 462.6 1641.7 465.5C1641.6 468.4 1640.8 471.2 1639.6 474.3C1638.4 477.3 1636.1 481.0 1634.4 483.9C1632.6 486.8 1630.5 489.3 1629.1 491.8C1627.7 494.3 1626.6 496.2 1626.0 498.8C1625.3 501.4 1625.1 504.8 1625.3 507.5C1625.4 510.3 1626.9 512.5 1627.0 515.4C1627.1 518.3 1626.4 522.0 1626.0 525.1C1625.5 528.1 1624.6 531.5 1624.2 533.8C1623.9 536.1 1623.6 537.5 1623.9 539.1C1624.1 540.7 1625.6 542.1 1625.6 543.4C1625.7 544.7 1625.7 546.2 1624.2 546.9C1622.7 547.7 1619.0 547.8 1616.9 547.8C1614.8 547.8 1612.7 547.5 1611.6 546.9C1610.5 546.4 1609.9 545.3 1610.2 544.3C1610.5 543.3 1612.8 542.9 1613.4 540.8C1613.9 538.8 1613.8 535.0 1613.7 532.1C1613.6 529.1 1613.3 526.2 1612.5 523.3C1611.7 520.4 1610.1 517.3 1609.0 514.5C1607.9 511.8 1607.0 508.8 1606.0 506.7C1605.0 504.6 1604.2 502.9 1602.8 501.9C1601.4 501.0 1599.9 500.9 1597.6 500.9C1595.3 500.9 1591.8 501.6 1588.8 501.9C1585.9 502.3 1583.0 502.5 1580.1 503.2C1577.2 503.8 1574.3 504.9 1571.3 505.8C1568.4 506.7 1565.5 507.9 1562.6 508.4C1559.7 508.9 1557.0 509.0 1553.8 508.9C1550.6 508.9 1546.5 508.3 1543.3 507.9C1540.1 507.5 1537.5 506.8 1534.6 506.7C1531.6 506.6 1528.1 506.2 1525.8 507.2C1523.5 508.2 1522.3 510.7 1520.6 512.8C1518.8 514.9 1516.8 517.8 1515.3 519.8C1513.8 521.8 1512.7 522.7 1511.8 525.1C1510.9 527.4 1510.5 530.9 1510.1 533.8C1509.6 536.7 1509.6 539.8 1509.2 542.6C1508.7 545.3 1508.2 548.4 1507.4 550.4C1506.6 552.5 1505.0 553.2 1504.4 554.8C1503.9 556.4 1504.6 558.8 1503.9 560.1C1503.3 561.3 1502.3 561.9 1500.4 562.2C1498.5 562.5 1494.6 562.0 1492.5 561.8C1490.5 561.6 1488.6 561.8 1488.2 560.9C1487.7 560.1 1489.0 557.7 1489.9 556.6C1490.8 555.4 1492.7 555.7 1493.4 553.9C1494.1 552.2 1494.1 549.1 1494.3 546.1C1494.4 543.0 1494.4 539.1 1494.3 535.6C1494.1 532.1 1494.0 528.0 1493.4 525.1C1492.8 522.1 1491.7 520.4 1490.8 518.0C1489.9 515.7 1488.9 513.4 1488.2 511.0C1487.4 508.7 1487.4 505.9 1486.4 504.0C1485.4 502.1 1483.6 501.3 1482.0 499.7C1480.4 498.1 1478.5 496.0 1476.8 494.4C1475.0 492.8 1473.1 491.1 1471.5 490.0C1469.9 489.0 1469.2 488.2 1467.2 487.9C1465.1 487.7 1462.0 488.3 1459.3 488.6C1456.5 489.0 1453.7 489.5 1450.5 490.0C1447.3 490.6 1443.2 490.9 1440.0 491.8C1436.8 492.7 1433.5 494.3 1431.3 495.3C1429.1 496.3 1427.9 496.5 1426.9 497.9C1425.9 499.4 1425.9 502.5 1425.1 504.0C1424.4 505.6 1423.8 506.9 1422.5 507.2C1421.2 507.5 1418.6 506.6 1417.3 505.8C1415.9 505.0 1415.2 503.7 1414.6 502.3C1414.0 500.8 1413.8 499.4 1413.8 497.0Z"/>
<path fill="#000" d="M1491.0 613.8C1490.8 612.7 1491.2 610.8 1490.7 609.9C1490.2 609.1 1489.1 609.2 1488.1 608.6C1487.1 608.1 1485.9 607.6 1484.9 606.7C1483.9 605.9 1483.0 604.7 1482.3 603.5C1481.7 602.3 1481.3 601.1 1481.0 599.7C1480.8 598.3 1481.1 596.3 1480.9 595.2C1480.8 594.0 1480.5 593.3 1480.1 592.6C1479.6 591.9 1478.7 591.5 1478.2 590.7C1477.6 589.8 1477.2 588.5 1476.9 587.5C1476.5 586.4 1476.0 585.3 1475.9 584.3C1475.8 583.2 1475.9 582.0 1476.2 581.4C1476.6 580.7 1477.1 580.5 1477.8 580.4C1478.5 580.3 1479.6 580.5 1480.4 580.7C1481.2 581.0 1482.0 581.5 1482.7 582.0C1483.3 582.5 1483.8 583.6 1484.6 583.6C1485.4 583.6 1486.4 582.3 1487.5 581.8C1488.5 581.3 1489.4 580.9 1490.7 580.5C1492.0 580.2 1493.7 579.9 1495.2 579.9C1496.7 579.9 1498.3 580.2 1499.7 580.5C1501.1 580.9 1502.4 581.4 1503.5 581.8C1504.6 582.2 1505.1 583.1 1506.1 583.0C1507.0 582.9 1508.3 581.6 1509.3 581.2C1510.3 580.7 1511.1 580.3 1511.9 580.3C1512.6 580.3 1513.3 580.5 1513.8 581.0C1514.2 581.5 1514.4 582.7 1514.6 583.3C1514.7 583.9 1514.1 584.4 1514.7 584.6C1515.4 584.7 1517.2 584.3 1518.3 584.3C1519.4 584.3 1520.4 584.2 1521.5 584.6C1522.6 585.0 1523.6 585.8 1524.7 586.5C1525.8 587.2 1526.7 588.2 1527.9 588.7C1529.1 589.3 1530.3 589.7 1531.8 589.7C1533.2 589.8 1535.4 589.3 1536.9 589.1C1538.4 588.8 1538.1 588.6 1540.6 588.2C1543.1 587.8 1548.1 587.2 1551.8 586.8C1555.6 586.4 1559.3 586.0 1563.0 585.7C1566.8 585.3 1570.5 585.0 1574.2 584.7C1578.0 584.4 1581.9 583.8 1585.4 583.7C1589.0 583.7 1592.2 583.9 1595.3 584.3C1598.3 584.7 1601.1 585.3 1603.7 586.1C1606.2 586.9 1608.6 587.7 1610.7 588.9C1612.8 590.1 1614.5 591.6 1616.3 593.1C1618.0 594.6 1619.5 596.1 1621.2 598.0C1622.8 599.9 1624.4 602.4 1626.1 604.3C1627.7 606.2 1629.1 608.2 1631.0 609.2C1632.8 610.3 1635.3 610.6 1637.3 610.6C1639.3 610.6 1641.1 610.0 1642.9 609.2C1644.6 608.4 1646.6 607.1 1647.8 605.7C1649.0 604.3 1649.9 602.3 1650.2 600.8C1650.4 599.3 1649.8 597.6 1649.2 596.6C1648.5 595.6 1647.3 594.9 1646.4 594.9C1645.4 594.9 1643.9 595.7 1643.6 596.6C1643.3 597.5 1644.5 599.0 1644.6 600.1C1644.6 601.2 1644.6 603.2 1644.0 603.3C1643.4 603.5 1641.7 601.9 1640.8 600.8C1639.8 599.7 1638.7 598.0 1638.4 596.6C1638.0 595.2 1638.2 593.6 1638.7 592.4C1639.2 591.2 1640.2 590.2 1641.5 589.6C1642.8 589.0 1644.7 588.7 1646.4 588.9C1648.0 589.1 1649.9 589.7 1651.3 590.7C1652.6 591.8 1653.7 593.4 1654.4 595.2C1655.0 597.0 1655.4 599.4 1655.2 601.5C1655.0 603.6 1654.4 605.8 1653.4 607.8C1652.4 609.8 1650.8 611.8 1649.2 613.4C1647.5 615.0 1645.6 616.5 1643.6 617.3C1641.6 618.2 1639.5 618.8 1637.3 618.7C1635.1 618.7 1632.4 617.8 1630.3 616.9C1628.2 616.0 1626.4 614.6 1624.7 613.4C1622.9 612.3 1621.0 609.4 1619.8 609.9C1618.5 610.4 1617.8 613.8 1617.0 616.2C1616.1 618.7 1615.5 621.8 1614.9 624.6C1614.2 627.4 1613.4 630.2 1613.2 633.0C1612.9 635.8 1613.1 638.6 1613.5 641.4C1613.9 644.2 1614.7 647.0 1615.6 649.8C1616.4 652.6 1618.6 655.7 1618.8 658.2C1619.0 660.8 1617.9 662.9 1617.0 665.2C1616.1 667.6 1614.6 670.0 1613.5 672.2C1612.3 674.5 1610.8 677.0 1610.0 678.5C1609.1 680.1 1610.3 680.8 1608.6 681.3C1606.8 681.9 1602.4 681.9 1599.5 681.8C1596.5 681.6 1592.8 681.3 1591.1 680.6C1589.3 680.0 1588.8 678.7 1589.0 677.8C1589.1 677.0 1590.2 675.8 1591.8 675.3C1593.3 674.9 1596.2 676.0 1598.1 675.0C1599.9 674.1 1601.8 671.3 1603.0 669.4C1604.1 667.6 1605.1 665.7 1605.1 663.8C1605.1 662.0 1604.1 660.3 1603.0 658.2C1601.8 656.1 1599.7 653.8 1598.1 651.2C1596.4 648.7 1594.8 645.5 1593.2 642.8C1591.5 640.1 1589.8 637.0 1588.3 635.1C1586.7 633.3 1585.9 631.9 1584.0 631.6C1582.2 631.4 1579.6 632.8 1577.0 633.7C1574.5 634.7 1571.4 636.4 1568.6 637.2C1565.8 638.1 1563.0 638.3 1560.2 638.9C1557.4 639.5 1554.6 640.3 1551.8 640.7C1549.0 641.2 1545.5 641.4 1543.4 641.7C1541.3 642.1 1540.0 641.2 1539.2 642.8C1538.5 644.4 1539.1 648.4 1539.0 651.2C1538.8 654.0 1538.7 656.8 1538.5 659.6C1538.3 662.4 1537.8 666.2 1537.8 668.0C1537.9 669.9 1539.0 669.4 1539.0 670.8C1539.0 672.2 1538.0 674.6 1537.8 676.4C1537.6 678.3 1539.0 680.9 1537.8 681.8C1536.7 682.7 1533.2 682.0 1530.8 681.8C1528.5 681.6 1525.3 681.2 1523.8 680.6C1522.3 680.1 1521.6 679.2 1521.7 678.5C1521.8 677.8 1523.2 677.3 1524.5 676.4C1525.8 675.6 1528.7 675.3 1529.4 673.6C1530.1 672.0 1529.2 669.0 1528.7 666.6C1528.3 664.3 1527.2 662.2 1526.6 659.6C1526.0 657.1 1525.7 654.0 1525.2 651.2C1524.8 648.4 1525.0 644.5 1523.8 642.8C1522.7 641.2 1520.2 641.9 1518.2 641.4C1516.2 641.0 1513.2 638.9 1511.9 640.0C1510.6 641.2 1511.1 645.6 1510.5 648.4C1509.9 651.2 1509.2 654.3 1508.4 656.8C1507.6 659.4 1506.6 661.5 1505.6 663.8C1504.7 666.2 1503.2 669.0 1502.8 670.8C1502.5 672.7 1503.7 673.6 1503.5 675.0C1503.3 676.4 1502.0 678.2 1501.4 679.2C1500.8 680.3 1501.4 680.9 1500.0 681.3C1498.6 681.8 1495.1 681.9 1493.0 681.8C1490.9 681.6 1488.5 681.3 1487.4 680.6C1486.3 680.0 1485.9 678.7 1486.3 677.8C1486.6 677.0 1488.0 675.8 1489.5 675.3C1491.0 674.8 1494.2 676.0 1495.1 674.8C1496.0 673.5 1495.2 670.6 1495.1 668.0C1495.0 665.5 1494.7 662.7 1494.7 659.6C1494.7 656.6 1495.0 653.1 1495.1 649.8C1495.2 646.6 1495.3 643.1 1495.1 640.0C1494.9 637.0 1494.2 634.4 1493.7 631.6C1493.2 628.8 1492.7 625.8 1492.3 623.2C1492.0 620.7 1491.8 617.8 1491.6 616.2C1491.4 614.6 1491.2 614.8 1491.0 613.8Z"/>
<path fill="#9a9a9a" d="M1479.2 585.4C1479.3 585.3 1481.1 586.6 1481.8 587.0C1482.6 587.3 1483.7 587.1 1483.7 587.5C1483.8 587.8 1482.5 588.9 1482.0 589.3C1481.5 589.7 1480.8 590.1 1480.7 589.9C1480.6 589.7 1481.7 588.6 1481.4 587.8C1481.2 587.1 1479.2 585.6 1479.2 585.4Z"/>
<path fill="#9a9a9a" d="M1512.2 584.6C1512.0 584.4 1510.4 585.6 1509.9 586.2C1509.5 586.7 1509.4 587.2 1509.4 587.8C1509.5 588.4 1510.0 589.8 1510.3 589.7C1510.5 589.7 1510.6 588.3 1510.9 587.5C1511.2 586.6 1512.3 584.8 1512.2 584.6Z"/>
<path fill="none" stroke="#9a9a9a" stroke-width="0.9" d="M1488.9 593.1C1488.8 593.5 1488.4 594.5 1488.6 595.2C1488.8 595.9 1489.4 596.8 1490.0 597.4C1490.7 598.0 1492.1 598.5 1492.5 598.7"/>
<path fill="none" stroke="#9a9a9a" stroke-width="0.8" d="M1490.5 590.5C1490.8 590.8 1491.9 591.4 1492.3 592.0C1492.6 592.5 1492.7 593.5 1492.7 593.8"/>
<path fill="none" stroke="#9a9a9a" stroke-width="0.7" d="M1500.9 594.2C1501.2 594.7 1502.0 596.0 1502.2 597.1C1502.5 598.2 1502.3 600.3 1502.4 600.9"/>
<path fill="none" stroke="#9a9a9a" stroke-width="0.7" d="M1506.1 593.9C1505.8 594.3 1505.1 595.6 1504.5 596.5C1503.9 597.3 1502.9 598.6 1502.5 599.0"/>
<path fill="#9a9a9a" d="M1495.0 604.9C1495.3 604.6 1497.7 605.6 1499.0 605.6C1500.3 605.5 1502.5 604.4 1502.7 604.7C1503.0 605.0 1500.9 606.6 1500.3 607.4C1499.7 608.1 1499.5 609.0 1499.0 609.0C1498.6 609.0 1498.3 608.0 1497.6 607.4C1496.9 606.7 1494.8 605.2 1495.0 604.9Z"/>
<path fill="none" stroke="#9a9a9a" stroke-width="1" d="M1495.3 612.4 L1501.9 612.0"/>
<path fill="none" stroke="#9a9a9a" stroke-width="0.6" d="M1493.2 614.7C1494.0 615.4 1496.5 618.6 1498.1 618.8C1499.6 619.0 1501.8 616.3 1502.5 615.8"/>
<path fill="none" stroke="#8a8a8a" stroke-width="0.6" stroke-dasharray="1.2 1.2" d="M1512.2 590.7L1509.3 603.5L1502.9 616.3"/>
</g>
<line x1="1523.9" y1="262" x2="1523.9" y2="368" stroke="#000" stroke-width="1.9"/>
</svg>
</figure></main></body></html>
